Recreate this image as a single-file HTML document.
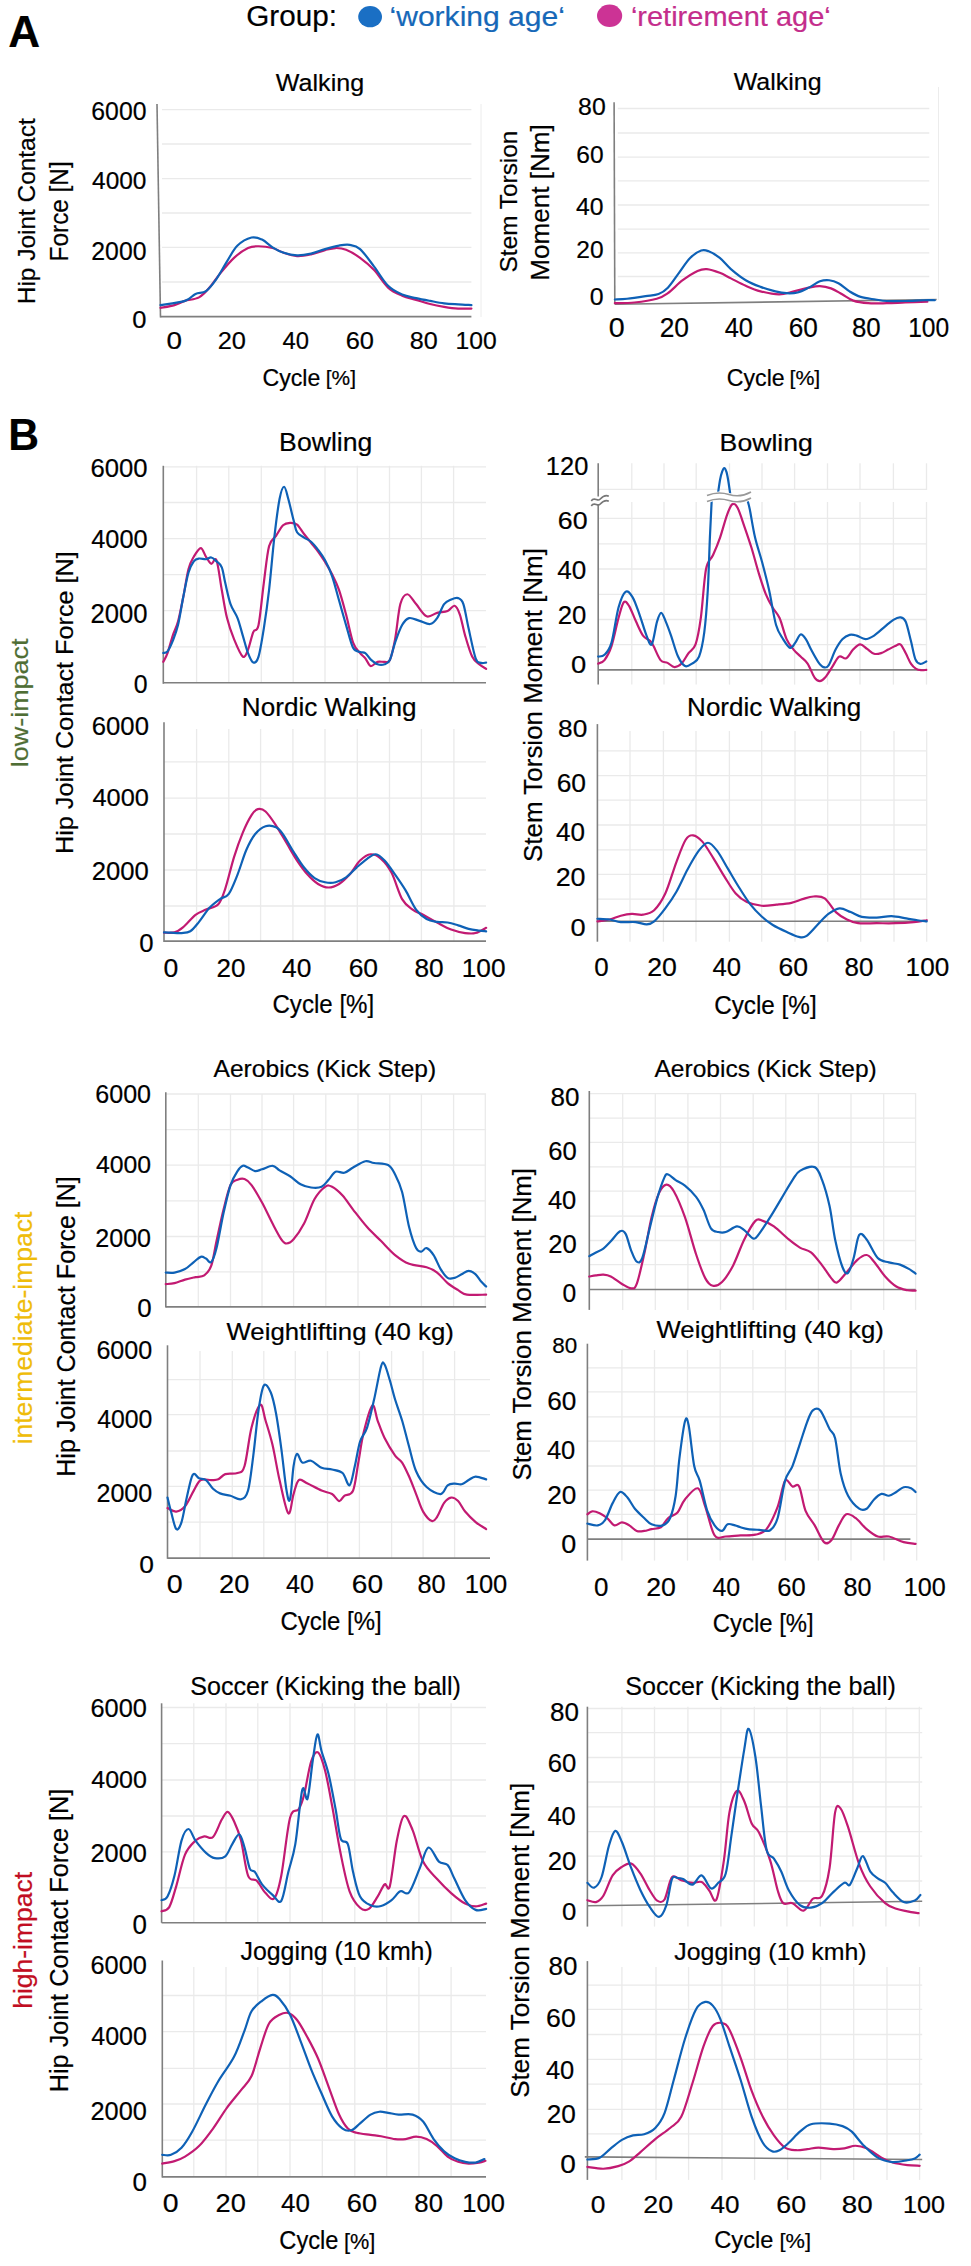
<!DOCTYPE html>
<html><head><meta charset="utf-8"><style>
html,body{margin:0;padding:0;background:#fff;overflow:hidden;width:971px;height:2266px;}
svg{display:block;}
text{font-family:"Liberation Sans",sans-serif;}
</style></head><body>
<svg width="971" height="2266" viewBox="0 0 971 2266">
<rect width="971" height="2266" fill="#fff"/>
<text x="8.2" y="47" font-size="44.04" fill="#000" stroke="#000" stroke-width="0.2" textLength="31.86" lengthAdjust="spacingAndGlyphs" font-weight="bold">A</text>
<text x="8.25" y="450.2" font-size="44.04" fill="#000" stroke="#000" stroke-width="0.2" textLength="30.79" lengthAdjust="spacingAndGlyphs" font-weight="bold">B</text>
<text x="246.21" y="26.1" font-size="29.36" fill="#000" stroke="#000" stroke-width="0.2" textLength="90.7" lengthAdjust="spacingAndGlyphs">Group:</text>
<ellipse cx="370.1" cy="16.7" rx="11.9" ry="10.6" fill="#1a6fc4"/>
<text x="389.54" y="26.1" font-size="28.29" fill="#1668b8" stroke="#1668b8" stroke-width="0.2" textLength="175.33" lengthAdjust="spacingAndGlyphs">‘working age‘</text>
<ellipse cx="609.6" cy="15.8" rx="12.6" ry="11.2" fill="#cc3395"/>
<text x="630.9" y="26.1" font-size="28.29" fill="#c42d8c" stroke="#c42d8c" stroke-width="0.2" textLength="199.9" lengthAdjust="spacingAndGlyphs">‘retirement age‘</text>
<line x1="162" y1="109.7" x2="471.4" y2="109.7" stroke="#eaeaea" stroke-width="1.3"/>
<line x1="162" y1="144" x2="471.4" y2="144" stroke="#eaeaea" stroke-width="1.3"/>
<line x1="162" y1="178.7" x2="471.4" y2="178.7" stroke="#eaeaea" stroke-width="1.3"/>
<line x1="162" y1="213" x2="471.4" y2="213" stroke="#eaeaea" stroke-width="1.3"/>
<line x1="162" y1="247.3" x2="471.4" y2="247.3" stroke="#eaeaea" stroke-width="1.3"/>
<line x1="162" y1="282" x2="471.4" y2="282" stroke="#eaeaea" stroke-width="1.3"/>
<line x1="481" y1="104" x2="481" y2="317" stroke="#ececec" stroke-width="1"/>
<line x1="157" y1="104" x2="160.5" y2="317.4" stroke="#7f7f7f" stroke-width="1.6"/>
<line x1="160.5" y1="316.6" x2="471.4" y2="316.6" stroke="#7f7f7f" stroke-width="1.6"/>
<path d="M160.5 307.9 C162.84 307.43 170.42 306.27 174.51 305.1 C178.59 303.93 180.93 302.18 185.01 300.9 C189.1 299.61 194.93 299.61 199.02 297.39 C203.1 295.18 206.02 291.56 209.52 287.59 C213.03 283.62 215.94 278.55 220.03 273.59 C224.11 268.63 229.37 262.09 234.03 257.83 C238.7 253.57 243.95 249.95 248.04 248.03 C252.12 246.1 254.46 246.27 258.54 246.27 C262.63 246.27 268.46 246.97 272.55 248.03 C276.63 249.08 278.97 251.23 283.05 252.58 C287.14 253.92 292.39 255.79 297.06 256.08 C301.73 256.37 306.4 255.32 311.06 254.33 C315.73 253.34 320.99 251.18 325.07 250.13 C329.15 249.08 332.07 248.08 335.57 248.03 C339.08 247.97 341.99 248.14 346.08 249.78 C350.16 251.41 355.42 254.44 360.08 257.83 C364.75 261.21 369.42 265.12 374.09 270.08 C378.76 275.04 383.43 283.33 388.1 287.59 C392.76 291.85 397.43 293.6 402.1 295.64 C406.77 297.69 411.44 298.45 416.11 299.85 C420.77 301.25 425.44 302.88 430.11 304.05 C434.78 305.21 439.45 306.09 444.12 306.85 C448.79 307.61 453.57 308.31 458.12 308.6 C462.68 308.89 469.21 308.6 471.43 308.6" fill="none" stroke="#c21a72" stroke-width="2.2" stroke-linejoin="round" stroke-linecap="round"/>
<path d="M160.5 305.1 C164.59 304.4 179.18 302.76 185.01 300.9 C190.85 299.03 192.02 295.53 195.52 293.89 C199.02 292.26 202.52 293.6 206.02 291.09 C209.52 288.58 213.03 283.8 216.53 278.84 C220.03 273.88 223.53 266.87 227.03 261.33 C230.53 255.79 233.45 249.54 237.54 245.57 C241.62 241.61 247.46 238.51 251.54 237.52 C255.63 236.53 258.54 237.99 262.04 239.62 C265.55 241.26 269.05 245.17 272.55 247.32 C276.05 249.48 278.97 251.23 283.05 252.58 C287.14 253.92 292.39 255.2 297.06 255.38 C301.73 255.55 306.4 254.68 311.06 253.63 C315.73 252.58 320.4 250.42 325.07 249.08 C329.74 247.73 334.99 246.27 339.08 245.57 C343.16 244.87 346.08 244.29 349.58 244.87 C353.08 245.46 356 245.46 360.08 249.08 C364.17 252.69 369.42 260.46 374.09 266.58 C378.76 272.71 383.43 281.17 388.1 285.84 C392.76 290.51 397.43 292.55 402.1 294.59 C406.77 296.64 411.44 297.04 416.11 298.1 C420.77 299.15 425.44 300.02 430.11 300.9 C434.78 301.77 439.45 302.76 444.12 303.35 C448.79 303.93 453.57 304.11 458.12 304.4 C462.68 304.69 469.21 304.98 471.43 305.1" fill="none" stroke="#0e61b6" stroke-width="2.2" stroke-linejoin="round" stroke-linecap="round"/>
<text x="275.89" y="90.8" font-size="23.69" fill="#000" stroke="#000" stroke-width="0.2" textLength="88.21" lengthAdjust="spacingAndGlyphs">Walking</text>
<text transform="translate(34.9 304.2) rotate(-90)" x="0" y="0" font-size="23.6" fill="#000" stroke="#000" stroke-width="0.2" textLength="185.88" lengthAdjust="spacingAndGlyphs">Hip Joint Contact</text>
<text transform="translate(67.5 261.4) rotate(-90)" x="0" y="0" font-size="24.98" fill="#000" stroke="#000" stroke-width="0.2" textLength="100.13" lengthAdjust="spacingAndGlyphs">Force [N]</text>
<text x="91.34" y="119.8" font-size="25.21" fill="#000" stroke="#000" stroke-width="0.2" textLength="55.13" lengthAdjust="spacingAndGlyphs">6000</text>
<text x="92.04" y="188.5" font-size="24.78" fill="#000" stroke="#000" stroke-width="0.2" textLength="54.42" lengthAdjust="spacingAndGlyphs">4000</text>
<text x="91.35" y="259.5" font-size="25.35" fill="#000" stroke="#000" stroke-width="0.2" textLength="55.11" lengthAdjust="spacingAndGlyphs">2000</text>
<text x="132.3" y="327.5" font-size="23.92" fill="#000" stroke="#000" stroke-width="0.2" textLength="14.19" lengthAdjust="spacingAndGlyphs">0</text>
<text x="166.41" y="348.9" font-size="23.63" fill="#000" stroke="#000" stroke-width="0.2" textLength="15.47" lengthAdjust="spacingAndGlyphs">0</text>
<text x="217.72" y="348.9" font-size="23.63" fill="#000" stroke="#000" stroke-width="0.2" textLength="28.27" lengthAdjust="spacingAndGlyphs">20</text>
<text x="282.45" y="348.9" font-size="23.63" fill="#000" stroke="#000" stroke-width="0.2" textLength="26.48" lengthAdjust="spacingAndGlyphs">40</text>
<text x="345.71" y="348.9" font-size="23.63" fill="#000" stroke="#000" stroke-width="0.2" textLength="28.28" lengthAdjust="spacingAndGlyphs">60</text>
<text x="409.81" y="348.9" font-size="23.63" fill="#000" stroke="#000" stroke-width="0.2" textLength="27.98" lengthAdjust="spacingAndGlyphs">80</text>
<text x="455.62" y="348.9" font-size="23.63" fill="#000" stroke="#000" stroke-width="0.2" textLength="41.14" lengthAdjust="spacingAndGlyphs">100</text>
<text x="262.53" y="385.9" font-size="23.4" fill="#000" stroke="#000" stroke-width="0.2" textLength="57.8" lengthAdjust="spacingAndGlyphs">Cycle</text>
<text x="325.81" y="385.35" font-size="20.49" fill="#000" stroke="#000" stroke-width="0.2" textLength="30.18" lengthAdjust="spacingAndGlyphs">[%]</text>
<line x1="617.8" y1="108.5" x2="929.3" y2="108.5" stroke="#eaeaea" stroke-width="1.3"/>
<line x1="617.8" y1="133" x2="929.3" y2="133" stroke="#eaeaea" stroke-width="1.3"/>
<line x1="617.8" y1="157.1" x2="929.3" y2="157.1" stroke="#eaeaea" stroke-width="1.3"/>
<line x1="617.8" y1="180.9" x2="929.3" y2="180.9" stroke="#eaeaea" stroke-width="1.3"/>
<line x1="617.8" y1="205" x2="929.3" y2="205" stroke="#eaeaea" stroke-width="1.3"/>
<line x1="617.8" y1="229.1" x2="929.3" y2="229.1" stroke="#eaeaea" stroke-width="1.3"/>
<line x1="617.8" y1="252.8" x2="929.3" y2="252.8" stroke="#eaeaea" stroke-width="1.3"/>
<line x1="617.8" y1="276.5" x2="929.3" y2="276.5" stroke="#eaeaea" stroke-width="1.3"/>
<line x1="938.5" y1="87" x2="938.5" y2="300" stroke="#ececec" stroke-width="1"/>
<line x1="614.1" y1="102.2" x2="614.8" y2="304.3" stroke="#7f7f7f" stroke-width="1.6"/>
<line x1="614.8" y1="304.3" x2="936.7" y2="299.5" stroke="#7f7f7f" stroke-width="1.6"/>
<path d="M614.84 303.21 C618.12 303.09 627.51 303.21 634.49 302.47 C641.48 301.73 651.18 300.31 656.74 298.76 C662.3 297.22 663.54 296.29 667.86 293.2 C672.19 290.11 677.75 283.93 682.7 280.22 C687.64 276.51 693.51 272.81 697.53 270.95 C701.54 269.1 703.09 268.79 706.8 269.1 C710.5 269.41 715.76 271.26 719.77 272.81 C723.79 274.35 726.57 276.21 730.9 278.37 C735.22 280.53 740.78 283.62 745.73 285.78 C750.67 287.95 755 289.92 760.56 291.35 C766.12 292.77 773.54 294.31 779.1 294.31 C784.66 294.31 788.99 292.46 793.93 291.35 C798.87 290.23 804.44 288.5 808.76 287.64 C813.09 286.77 816.18 286.03 819.89 286.15 C823.59 286.28 827.3 287.02 831.01 288.38 C834.72 289.74 838.42 292.27 842.13 294.31 C845.84 296.35 848.93 299.13 853.26 300.62 C857.58 302.1 862.53 302.78 868.09 303.21 C873.65 303.64 880.45 303.33 886.63 303.21 C892.81 303.09 898.37 302.72 905.16 302.47 C911.96 302.22 923.7 301.85 927.41 301.73" fill="none" stroke="#c21a72" stroke-width="2.2" stroke-linejoin="round" stroke-linecap="round"/>
<path d="M614.84 299.5 C616.88 299.38 621.95 299.32 627.08 298.76 C632.21 298.21 640.36 296.97 645.62 296.17 C650.87 295.36 654.89 295.36 658.59 293.94 C662.3 292.52 664.47 291.16 667.86 287.64 C671.26 284.12 675.28 277.75 678.99 272.81 C682.7 267.86 686.4 261.68 690.11 257.98 C693.82 254.27 698.14 251.67 701.23 250.56 C704.32 249.45 705.56 250.07 708.65 251.3 C711.74 252.54 716.07 255.01 719.77 257.98 C723.48 260.94 726.57 265.39 730.9 269.1 C735.22 272.81 740.78 277.26 745.73 280.22 C750.67 283.19 755.62 285.04 760.56 286.9 C765.5 288.75 771.07 290.3 775.39 291.35 C779.72 292.4 782.81 293.01 786.51 293.2 C790.22 293.39 793.93 293.39 797.64 292.46 C801.35 291.53 805.05 289.49 808.76 287.64 C812.47 285.78 816.49 282.57 819.89 281.33 C823.28 280.1 826.06 279.91 829.15 280.22 C832.24 280.53 835.03 281.33 838.42 283.19 C841.82 285.04 845.84 289.06 849.55 291.35 C853.26 293.63 856.35 295.55 860.67 296.91 C865 298.27 871.18 298.82 875.5 299.5 C879.83 300.18 881.68 300.74 886.63 300.99 C891.57 301.23 898.99 301.11 905.16 300.99 C911.34 300.86 918.76 300.37 923.7 300.24 C928.65 300.12 932.97 300.24 934.83 300.24" fill="none" stroke="#0e61b6" stroke-width="2.2" stroke-linejoin="round" stroke-linecap="round"/>
<text x="733.69" y="90.2" font-size="24.71" fill="#000" stroke="#000" stroke-width="0.2" textLength="87.9" lengthAdjust="spacingAndGlyphs">Walking</text>
<text transform="translate(516.6 272.38) rotate(-90)" x="0" y="0" font-size="24.27" fill="#000" stroke="#000" stroke-width="0.2" textLength="141.73" lengthAdjust="spacingAndGlyphs">Stem Torsion</text>
<text transform="translate(549.3 280.84) rotate(-90)" x="0" y="0" font-size="25.15" fill="#000" stroke="#000" stroke-width="0.2" textLength="156.6" lengthAdjust="spacingAndGlyphs">Moment [Nm]</text>
<text x="578.12" y="115.1" font-size="24.78" fill="#000" stroke="#000" stroke-width="0.2" textLength="27.65" lengthAdjust="spacingAndGlyphs">80</text>
<text x="576.35" y="163.3" font-size="24.78" fill="#000" stroke="#000" stroke-width="0.2" textLength="27.31" lengthAdjust="spacingAndGlyphs">60</text>
<text x="575.93" y="214.5" font-size="23.92" fill="#000" stroke="#000" stroke-width="0.2" textLength="27.54" lengthAdjust="spacingAndGlyphs">40</text>
<text x="576.37" y="257.6" font-size="24.78" fill="#000" stroke="#000" stroke-width="0.2" textLength="27.29" lengthAdjust="spacingAndGlyphs">20</text>
<text x="589.83" y="305.4" font-size="24.2" fill="#000" stroke="#000" stroke-width="0.2" textLength="13.84" lengthAdjust="spacingAndGlyphs">0</text>
<text x="608.88" y="337.4" font-size="28.36" fill="#000" stroke="#000" stroke-width="0.2" textLength="15.94" lengthAdjust="spacingAndGlyphs">0</text>
<text x="659.67" y="337.4" font-size="28.36" fill="#000" stroke="#000" stroke-width="0.2" textLength="29.36" lengthAdjust="spacingAndGlyphs">20</text>
<text x="724.72" y="337.4" font-size="28.36" fill="#000" stroke="#000" stroke-width="0.2" textLength="28.28" lengthAdjust="spacingAndGlyphs">40</text>
<text x="788.67" y="337.4" font-size="28.36" fill="#000" stroke="#000" stroke-width="0.2" textLength="29.15" lengthAdjust="spacingAndGlyphs">60</text>
<text x="851.88" y="337.4" font-size="28.36" fill="#000" stroke="#000" stroke-width="0.2" textLength="28.73" lengthAdjust="spacingAndGlyphs">80</text>
<text x="908.13" y="337.4" font-size="28.36" fill="#000" stroke="#000" stroke-width="0.2" textLength="41.03" lengthAdjust="spacingAndGlyphs">100</text>
<text x="726.83" y="385.9" font-size="23.4" fill="#000" stroke="#000" stroke-width="0.2" textLength="57.8" lengthAdjust="spacingAndGlyphs">Cycle</text>
<text x="789.48" y="385.35" font-size="20.49" fill="#000" stroke="#000" stroke-width="0.2" textLength="30.84" lengthAdjust="spacingAndGlyphs">[%]</text>
<line x1="163.3" y1="466.8" x2="486" y2="466.8" stroke="#eaeaea" stroke-width="1.3"/>
<line x1="163.3" y1="502.5" x2="486" y2="502.5" stroke="#eaeaea" stroke-width="1.3"/>
<line x1="163.3" y1="538.6" x2="486" y2="538.6" stroke="#eaeaea" stroke-width="1.3"/>
<line x1="163.3" y1="574.7" x2="486" y2="574.7" stroke="#eaeaea" stroke-width="1.3"/>
<line x1="163.3" y1="610.7" x2="486" y2="610.7" stroke="#eaeaea" stroke-width="1.3"/>
<line x1="163.3" y1="646.8" x2="486" y2="646.8" stroke="#eaeaea" stroke-width="1.3"/>
<line x1="196.6" y1="465.8" x2="196.6" y2="682.8" stroke="#eaeaea" stroke-width="1.3"/>
<line x1="228.8" y1="465.8" x2="228.8" y2="682.8" stroke="#eaeaea" stroke-width="1.3"/>
<line x1="261.3" y1="465.8" x2="261.3" y2="682.8" stroke="#eaeaea" stroke-width="1.3"/>
<line x1="293.2" y1="465.8" x2="293.2" y2="682.8" stroke="#eaeaea" stroke-width="1.3"/>
<line x1="325" y1="465.8" x2="325" y2="682.8" stroke="#eaeaea" stroke-width="1.3"/>
<line x1="357.3" y1="465.8" x2="357.3" y2="682.8" stroke="#eaeaea" stroke-width="1.3"/>
<line x1="389.5" y1="465.8" x2="389.5" y2="682.8" stroke="#eaeaea" stroke-width="1.3"/>
<line x1="421.4" y1="465.8" x2="421.4" y2="682.8" stroke="#eaeaea" stroke-width="1.3"/>
<line x1="453.6" y1="465.8" x2="453.6" y2="682.8" stroke="#eaeaea" stroke-width="1.3"/>
<line x1="163.3" y1="465.8" x2="163.3" y2="683.8" stroke="#7f7f7f" stroke-width="1.6"/>
<line x1="163.3" y1="682.8" x2="486" y2="682.8" stroke="#7f7f7f" stroke-width="1.6"/>
<path d="M163.31 661.83 C164.01 660.38 165.93 657.46 167.51 653.08 C169.08 648.7 171.01 640.83 172.76 635.57 C174.51 630.32 176.26 627.99 178.01 621.57 C179.76 615.15 181.51 605.81 183.26 597.06 C185.01 588.31 186.76 575.76 188.52 569.05 C190.27 562.34 191.73 560.29 193.77 556.79 C195.81 553.29 198.73 548.04 200.77 548.04 C202.81 548.04 204.27 554.17 206.02 556.79 C207.77 559.42 209.52 563.21 211.27 563.8 C213.03 564.38 214.78 555.92 216.53 560.29 C218.28 564.67 220.03 580.43 221.78 590.06 C223.53 599.68 224.99 609.9 227.03 618.07 C229.07 626.24 231.41 632.66 234.03 639.08 C236.66 645.49 240.45 654.83 242.79 656.58 C245.12 658.33 246.29 653.66 248.04 649.58 C249.79 645.49 251.54 636.16 253.29 632.07 C255.04 627.99 256.79 633.24 258.54 625.07 C260.29 616.9 262.04 596.18 263.8 583.05 C265.55 569.92 267.01 554.17 269.05 546.29 C271.09 538.41 273.72 539.29 276.05 535.78 C278.38 532.28 280.72 527.44 283.05 525.28 C285.39 523.12 287.72 522.95 290.06 522.83 C292.39 522.71 294.72 522.71 297.06 524.58 C299.39 526.45 301.73 531 304.06 534.03 C306.4 537.07 308.73 539.87 311.06 542.79 C313.4 545.7 315.73 548.33 318.07 551.54 C320.4 554.75 322.74 558.25 325.07 562.04 C327.4 565.84 329.74 569.63 332.07 574.3 C334.41 578.97 336.74 583.35 339.08 590.06 C341.41 596.77 343.74 605.81 346.08 614.57 C348.41 623.32 350.75 636.16 353.08 642.58 C355.42 649 358.04 650.46 360.08 653.08 C362.13 655.71 363.59 656.17 365.34 658.33 C367.09 660.49 368.55 665.45 370.59 666.04 C372.63 666.62 375.26 662.54 377.59 661.83 C379.93 661.13 382.55 662.13 384.59 661.83 C386.64 661.54 388.1 663.88 389.85 660.08 C391.6 656.29 393.35 648.41 395.1 639.08 C396.85 629.74 398.31 611.53 400.35 604.06 C402.39 596.59 404.73 594.26 407.35 594.26 C409.98 594.26 412.9 600.39 416.11 604.06 C419.32 607.74 423.11 614.86 426.61 616.32 C430.11 617.78 433.61 613.69 437.11 612.82 C440.62 611.94 444.7 612.23 447.62 611.06 C450.54 609.9 452.58 605.23 454.62 605.81 C456.66 606.4 458.12 609.61 459.87 614.57 C461.62 619.53 463.08 628.57 465.13 635.57 C467.17 642.58 469.79 651.8 472.13 656.58 C474.46 661.37 476.8 662.24 479.13 664.29 C481.47 666.33 484.97 668.08 486.13 668.84" fill="none" stroke="#c21a72" stroke-width="2.2" stroke-linejoin="round" stroke-linecap="round"/>
<path d="M163.31 653.08 C164.01 652.79 165.93 653.37 167.51 651.33 C169.08 649.29 171.01 645.2 172.76 640.83 C174.51 636.45 176.26 632.36 178.01 625.07 C179.76 617.78 181.51 605.81 183.26 597.06 C185.01 588.31 186.76 578.5 188.52 572.55 C190.27 566.6 192.02 563.68 193.77 561.34 C195.52 559.01 196.98 558.89 199.02 558.54 C201.06 558.19 203.98 559.42 206.02 559.24 C208.06 559.07 209.52 557.14 211.27 557.49 C213.03 557.84 214.78 559.71 216.53 561.34 C218.28 562.98 220.32 563.68 221.78 567.3 C223.24 570.92 223.82 576.93 225.28 583.05 C226.74 589.18 228.49 598.23 230.53 604.06 C232.57 609.9 235.49 612.82 237.54 618.07 C239.58 623.32 241.04 629.74 242.79 635.57 C244.54 641.41 246.29 648.59 248.04 653.08 C249.79 657.57 251.54 661.95 253.29 662.54 C255.04 663.12 256.79 662.24 258.54 656.58 C260.29 650.92 262.04 639.66 263.8 628.57 C265.55 617.48 267.3 605.23 269.05 590.06 C270.8 574.88 272.55 552.71 274.3 537.54 C276.05 522.36 277.92 507.48 279.55 499.02 C281.19 490.56 282.64 486.76 284.1 486.76 C285.56 486.76 286.73 493.48 288.31 499.02 C289.88 504.56 292.1 514.48 293.56 520.03 C295.02 525.57 295.31 529.37 297.06 532.28 C298.81 535.2 301.73 535.96 304.06 537.54 C306.4 539.11 308.73 539.69 311.06 541.74 C313.4 543.78 315.73 546.7 318.07 549.79 C320.4 552.88 322.74 555.92 325.07 560.29 C327.4 564.67 329.74 569.34 332.07 576.05 C334.41 582.76 336.74 592.39 339.08 600.56 C341.41 608.73 343.74 617.19 346.08 625.07 C348.41 632.95 350.75 643.34 353.08 647.83 C355.42 652.32 358.04 651.16 360.08 652.03 C362.13 652.91 363.59 651.86 365.34 653.08 C367.09 654.31 368.55 657.52 370.59 659.38 C372.63 661.25 375.26 663.47 377.59 664.29 C379.93 665.1 382.55 664.99 384.59 664.29 C386.64 663.59 388.1 663.7 389.85 660.08 C391.6 656.47 393.06 648.41 395.1 642.58 C397.14 636.74 399.77 629.15 402.1 625.07 C404.44 620.99 406.19 618.77 409.1 618.07 C412.02 617.37 416.11 619.88 419.61 620.87 C423.11 621.86 427.19 624.49 430.11 624.02 C433.03 623.55 434.78 621.39 437.11 618.07 C439.45 614.74 441.78 607.15 444.12 604.06 C446.45 600.97 448.79 600.5 451.12 599.51 C453.45 598.52 456.08 597.35 458.12 598.11 C460.17 598.87 461.62 598.98 463.38 604.06 C465.13 609.14 466.58 619.53 468.63 628.57 C470.67 637.62 473.59 652.61 475.63 658.33 C477.67 664.05 479.13 662.18 480.88 662.89 C482.63 663.59 485.26 662.59 486.13 662.54" fill="none" stroke="#0e61b6" stroke-width="2.2" stroke-linejoin="round" stroke-linecap="round"/>
<text x="279.11" y="450.9" font-size="25.15" fill="#000" stroke="#000" stroke-width="0.2" textLength="93.3" lengthAdjust="spacingAndGlyphs">Bowling</text>
<text x="90.5" y="477.2" font-size="25.64" fill="#000" stroke="#000" stroke-width="0.2" textLength="57.11" lengthAdjust="spacingAndGlyphs">6000</text>
<text x="91.22" y="547.5" font-size="25.64" fill="#000" stroke="#000" stroke-width="0.2" textLength="56.37" lengthAdjust="spacingAndGlyphs">4000</text>
<text x="90.51" y="622.6" font-size="27.35" fill="#000" stroke="#000" stroke-width="0.2" textLength="57.09" lengthAdjust="spacingAndGlyphs">2000</text>
<text x="133.73" y="692.9" font-size="25.64" fill="#000" stroke="#000" stroke-width="0.2" textLength="13.84" lengthAdjust="spacingAndGlyphs">0</text>
<line x1="598.2" y1="518.3" x2="926" y2="518.3" stroke="#eaeaea" stroke-width="1.3"/>
<line x1="598.2" y1="543.8" x2="926" y2="543.8" stroke="#eaeaea" stroke-width="1.3"/>
<line x1="598.2" y1="569" x2="926" y2="569" stroke="#eaeaea" stroke-width="1.3"/>
<line x1="598.2" y1="594.3" x2="926" y2="594.3" stroke="#eaeaea" stroke-width="1.3"/>
<line x1="598.2" y1="619.5" x2="926" y2="619.5" stroke="#eaeaea" stroke-width="1.3"/>
<line x1="598.2" y1="644.7" x2="926" y2="644.7" stroke="#eaeaea" stroke-width="1.3"/>
<line x1="598.2" y1="489.3" x2="926" y2="489.3" stroke="#eaeaea" stroke-width="1.3"/>
<line x1="631.8" y1="463.3" x2="631.8" y2="490" stroke="#eaeaea" stroke-width="1.3"/>
<line x1="631.8" y1="502" x2="631.8" y2="684.6" stroke="#eaeaea" stroke-width="1.3"/>
<line x1="664" y1="463.3" x2="664" y2="490" stroke="#eaeaea" stroke-width="1.3"/>
<line x1="664" y1="502" x2="664" y2="684.6" stroke="#eaeaea" stroke-width="1.3"/>
<line x1="696.2" y1="463.3" x2="696.2" y2="490" stroke="#eaeaea" stroke-width="1.3"/>
<line x1="696.2" y1="502" x2="696.2" y2="684.6" stroke="#eaeaea" stroke-width="1.3"/>
<line x1="729.5" y1="463.3" x2="729.5" y2="490" stroke="#eaeaea" stroke-width="1.3"/>
<line x1="729.5" y1="502" x2="729.5" y2="684.6" stroke="#eaeaea" stroke-width="1.3"/>
<line x1="762" y1="463.3" x2="762" y2="490" stroke="#eaeaea" stroke-width="1.3"/>
<line x1="762" y1="502" x2="762" y2="684.6" stroke="#eaeaea" stroke-width="1.3"/>
<line x1="794.6" y1="463.3" x2="794.6" y2="490" stroke="#eaeaea" stroke-width="1.3"/>
<line x1="794.6" y1="502" x2="794.6" y2="684.6" stroke="#eaeaea" stroke-width="1.3"/>
<line x1="827.5" y1="463.3" x2="827.5" y2="490" stroke="#eaeaea" stroke-width="1.3"/>
<line x1="827.5" y1="502" x2="827.5" y2="684.6" stroke="#eaeaea" stroke-width="1.3"/>
<line x1="860" y1="463.3" x2="860" y2="490" stroke="#eaeaea" stroke-width="1.3"/>
<line x1="860" y1="502" x2="860" y2="684.6" stroke="#eaeaea" stroke-width="1.3"/>
<line x1="893.4" y1="463.3" x2="893.4" y2="490" stroke="#eaeaea" stroke-width="1.3"/>
<line x1="893.4" y1="502" x2="893.4" y2="684.6" stroke="#eaeaea" stroke-width="1.3"/>
<line x1="926.5" y1="463.3" x2="926.5" y2="490" stroke="#eaeaea" stroke-width="1.3"/>
<line x1="926.5" y1="502" x2="926.5" y2="684.6" stroke="#eaeaea" stroke-width="1.3"/>
<line x1="598.2" y1="463.3" x2="598.2" y2="497" stroke="#7f7f7f" stroke-width="1.6"/>
<line x1="598.2" y1="504" x2="598.2" y2="684.6" stroke="#7f7f7f" stroke-width="1.6"/>
<line x1="598.2" y1="669.9" x2="926.5" y2="669.9" stroke="#7f7f7f" stroke-width="1.6"/>
<path d="M598.21 663.59 C599.26 663 602.29 663 604.51 660.08 C606.73 657.17 609.18 653.08 611.51 646.08 C613.85 639.08 616.47 625.36 618.52 618.07 C620.56 610.77 622.02 604.35 623.77 602.31 C625.52 600.27 626.98 602.6 629.02 605.81 C631.06 609.02 633.69 616.61 636.02 621.57 C638.36 626.53 640.69 632.36 643.03 635.57 C645.36 638.78 648.28 639.08 650.03 640.83 C651.78 642.58 651.78 642.87 653.53 646.08 C655.28 649.29 658.2 657.28 660.53 660.08 C662.87 662.89 665.2 661.72 667.54 662.89 C669.87 664.05 672.2 666.97 674.54 667.09 C676.87 667.2 679.21 665.92 681.54 663.59 C683.87 661.25 686.21 656.29 688.54 653.08 C690.88 649.87 693.5 650.16 695.55 644.33 C697.59 638.49 699.05 630.61 700.8 618.07 C702.55 605.52 704.01 579.55 706.05 569.05 C708.09 558.54 710.72 560.29 713.05 555.04 C715.39 549.79 717.72 544.25 720.06 537.54 C722.39 530.82 725.02 520.32 727.06 514.78 C729.1 509.23 730.56 505.44 732.31 504.27 C734.06 503.1 735.52 503.98 737.56 507.77 C739.61 511.57 742.23 520.32 744.57 527.03 C746.9 533.74 749.23 540.45 751.57 548.04 C753.9 555.63 756.24 564.96 758.57 572.55 C760.91 580.14 763.24 587.72 765.57 593.56 C767.91 599.39 770.24 603.48 772.58 607.56 C774.91 611.65 777.25 612.82 779.58 618.07 C781.91 623.32 784.25 633.82 786.58 639.08 C788.92 644.33 791.25 646.66 793.59 649.58 C795.92 652.5 798.25 654.25 800.59 656.58 C802.92 658.92 805.26 660.08 807.59 663.59 C809.93 667.09 812.55 674.67 814.59 677.59 C816.64 680.51 818.1 681.09 819.85 681.09 C821.6 681.09 823.06 679.93 825.1 677.59 C827.14 675.26 829.77 670.59 832.1 667.09 C834.44 663.59 836.77 658.04 839.1 656.58 C841.44 655.12 843.77 659.5 846.11 658.33 C848.44 657.17 850.77 651.91 853.11 649.58 C855.44 647.25 857.78 644.44 860.11 644.33 C862.45 644.21 864.78 647.3 867.11 648.88 C869.45 650.46 871.78 653.08 874.12 653.78 C876.45 654.48 878.79 653.78 881.12 653.08 C883.45 652.38 885.79 650.75 888.12 649.58 C890.46 648.41 893.08 646.95 895.13 646.08 C897.17 645.2 898.63 643.16 900.38 644.33 C902.13 645.49 903.88 649.87 905.63 653.08 C907.38 656.29 909.13 660.96 910.88 663.59 C912.63 666.21 914.38 667.73 916.13 668.84 C917.89 669.95 919.69 670.06 921.39 670.24 C923.08 670.41 925.47 669.95 926.29 669.89" fill="none" stroke="#c21a72" stroke-width="2.2" stroke-linejoin="round" stroke-linecap="round"/>
<path d="M598.21 656.58 C599.26 656.29 602.29 657.17 604.51 654.83 C606.73 652.5 609.18 650.46 611.51 642.58 C613.85 634.7 616.18 616.02 618.52 607.56 C620.85 599.1 623.18 593.56 625.52 591.81 C627.85 590.06 630.19 593.27 632.52 597.06 C634.86 600.85 637.19 608.15 639.52 614.57 C641.86 620.99 644.48 630.61 646.53 635.57 C648.57 640.53 650.03 646.66 651.78 644.33 C653.53 641.99 655.46 626.82 657.03 621.57 C658.61 616.32 659.77 612.82 661.23 612.82 C662.69 612.82 664.15 617.78 665.78 621.57 C667.42 625.36 668.99 629.74 671.04 635.57 C673.08 641.41 675.7 651.51 678.04 656.58 C680.37 661.66 682.71 664.87 685.04 666.04 C687.38 667.2 689.71 665.16 692.04 663.59 C694.38 662.01 697.01 661.83 699.05 656.58 C701.09 651.33 702.84 643.16 704.3 632.07 C705.76 620.99 706.87 605.81 707.8 590.06 C708.73 574.3 709.26 552.36 709.9 537.54 C710.54 522.71 711.36 507.19 711.65 501.12" fill="none" stroke="#0e61b6" stroke-width="2.2" stroke-linejoin="round" stroke-linecap="round"/>
<path d="M717.96 493.77 C718.31 491.43 719.36 483.44 720.06 479.76 C720.76 476.09 721.46 473.63 722.16 471.71 C722.86 469.78 723.56 468.21 724.26 468.21 C724.96 468.21 725.72 469.78 726.36 471.71 C727 473.63 727.47 476.09 728.11 479.76 C728.75 483.44 729.86 491.43 730.21 493.77" fill="none" stroke="#0e61b6" stroke-width="2.2" stroke-linejoin="round" stroke-linecap="round"/>
<path d="M747.72 501.12 C748.07 502.52 748.59 503.45 749.82 509.52 C751.04 515.59 753.03 528.78 755.07 537.54 C757.11 546.29 759.74 553.29 762.07 562.04 C764.41 570.8 766.74 579.55 769.08 590.06 C771.41 600.56 773.74 616.9 776.08 625.07 C778.41 633.24 780.75 635.28 783.08 639.08 C785.42 642.87 788.04 647.25 790.08 647.83 C792.13 648.41 793.59 644.79 795.34 642.58 C797.09 640.36 798.84 635.11 800.59 634.52 C802.34 633.94 804.09 636.57 805.84 639.08 C807.59 641.58 809.05 645.79 811.09 649.58 C813.13 653.37 816.05 658.92 818.1 661.83 C820.14 664.75 821.6 666.5 823.35 667.09 C825.1 667.67 826.56 668.25 828.6 665.34 C830.64 662.42 833.27 653.96 835.6 649.58 C837.94 645.2 840.27 641.53 842.61 639.08 C844.94 636.62 847.27 635.46 849.61 634.87 C851.94 634.29 853.98 634.87 856.61 635.57 C859.24 636.27 862.45 639.08 865.36 639.08 C868.28 639.08 870.91 637.62 874.12 635.57 C877.33 633.53 881.41 629.45 884.62 626.82 C887.83 624.19 890.75 621.39 893.38 619.82 C896 618.24 898.34 617.08 900.38 617.37 C902.42 617.66 903.88 617.66 905.63 621.57 C907.38 625.48 909.25 634.52 910.88 640.83 C912.52 647.13 913.86 655.53 915.43 659.38 C917.01 663.24 918.53 663.59 920.34 663.94 C922.15 664.29 925.3 661.89 926.29 661.48" fill="none" stroke="#0e61b6" stroke-width="2.2" stroke-linejoin="round" stroke-linecap="round"/>
<path d="M707 498.5 Q718 494 729 497.5 T751 495" fill="none" stroke="#fff" stroke-width="9"/>
<path d="M707 495.5 Q718 491 729 494.5 T751 492" fill="none" stroke="#999" stroke-width="1.6"/>
<path d="M707 501.5 Q718 497 729 500.5 T751 498" fill="none" stroke="#999" stroke-width="1.6"/>
<rect x="590" y="496.5" width="20" height="7" fill="#fff"/>
<path d="M591.3 501 C594 496 597.5 502 600 499.3 C602.5 496.6 605.5 494.6 608.8 496.2" fill="none" stroke="#777" stroke-width="1.6"/>
<path d="M591.3 506 C594 501 597.5 507 600 504.3 C602.5 501.6 605.5 499.6 608.8 501.2" fill="none" stroke="#777" stroke-width="1.6"/>
<text x="719.61" y="451" font-size="24.71" fill="#000" stroke="#000" stroke-width="0.2" textLength="93.3" lengthAdjust="spacingAndGlyphs">Bowling</text>
<text x="545.86" y="475" font-size="25.49" fill="#000" stroke="#000" stroke-width="0.2" textLength="42.43" lengthAdjust="spacingAndGlyphs">120</text>
<text x="557.74" y="528.9" font-size="24.63" fill="#000" stroke="#000" stroke-width="0.2" textLength="29.81" lengthAdjust="spacingAndGlyphs">60</text>
<text x="557.3" y="578.6" font-size="24.92" fill="#000" stroke="#000" stroke-width="0.2" textLength="29.02" lengthAdjust="spacingAndGlyphs">40</text>
<text x="557.71" y="624.3" font-size="25.49" fill="#000" stroke="#000" stroke-width="0.2" textLength="28.6" lengthAdjust="spacingAndGlyphs">20</text>
<text x="571.13" y="672.8" font-size="24.63" fill="#000" stroke="#000" stroke-width="0.2" textLength="15.24" lengthAdjust="spacingAndGlyphs">0</text>
<line x1="164" y1="761.8" x2="486" y2="761.8" stroke="#eaeaea" stroke-width="1.3"/>
<line x1="164" y1="798.2" x2="486" y2="798.2" stroke="#eaeaea" stroke-width="1.3"/>
<line x1="164" y1="834" x2="486" y2="834" stroke="#eaeaea" stroke-width="1.3"/>
<line x1="164" y1="870" x2="486" y2="870" stroke="#eaeaea" stroke-width="1.3"/>
<line x1="164" y1="906" x2="486" y2="906" stroke="#eaeaea" stroke-width="1.3"/>
<line x1="196.6" y1="729" x2="196.6" y2="941.1" stroke="#eaeaea" stroke-width="1.3"/>
<line x1="228.8" y1="729" x2="228.8" y2="941.1" stroke="#eaeaea" stroke-width="1.3"/>
<line x1="260.6" y1="729" x2="260.6" y2="941.1" stroke="#eaeaea" stroke-width="1.3"/>
<line x1="292.9" y1="729" x2="292.9" y2="941.1" stroke="#eaeaea" stroke-width="1.3"/>
<line x1="325" y1="729" x2="325" y2="941.1" stroke="#eaeaea" stroke-width="1.3"/>
<line x1="357.3" y1="729" x2="357.3" y2="941.1" stroke="#eaeaea" stroke-width="1.3"/>
<line x1="389.5" y1="729" x2="389.5" y2="941.1" stroke="#eaeaea" stroke-width="1.3"/>
<line x1="421.4" y1="729" x2="421.4" y2="941.1" stroke="#eaeaea" stroke-width="1.3"/>
<line x1="453.9" y1="729" x2="453.9" y2="941.1" stroke="#eaeaea" stroke-width="1.3"/>
<line x1="164" y1="722.3" x2="164" y2="942" stroke="#7f7f7f" stroke-width="1.6"/>
<line x1="164" y1="941.1" x2="486" y2="941.1" stroke="#7f7f7f" stroke-width="1.6"/>
<path d="M164.01 932.69 C165.76 932.63 171.3 933.27 174.51 932.34 C177.72 931.41 179.76 930 183.26 927.09 C186.76 924.17 191.73 917.75 195.52 914.83 C199.31 911.91 202.23 911.33 206.02 909.58 C209.82 907.83 215.07 907.83 218.28 904.33 C221.49 900.83 222.65 896.45 225.28 888.57 C227.91 880.69 231.12 866.4 234.03 857.06 C236.95 847.72 239.87 839.55 242.79 832.55 C245.7 825.55 249.03 818.95 251.54 815.04 C254.05 811.13 255.51 809.67 257.84 809.09 C260.18 808.51 262.51 808.8 265.55 811.54 C268.58 814.28 272.55 820.29 276.05 825.55 C279.55 830.8 283.05 837.22 286.55 843.05 C290.06 848.89 293.56 855.31 297.06 860.56 C300.56 865.81 304.06 870.66 307.56 874.57 C311.06 878.48 314.57 881.86 318.07 884.02 C321.57 886.18 325.07 887.52 328.57 887.52 C332.07 887.52 335.57 886.18 339.08 884.02 C342.58 881.86 346.08 878.48 349.58 874.57 C353.08 870.66 356.58 863.94 360.08 860.56 C363.59 857.18 367.09 854.55 370.59 854.26 C374.09 853.97 377.59 855.72 381.09 858.81 C384.59 861.9 388.1 866.1 391.6 872.82 C395.1 879.53 398.6 892.95 402.1 899.08 C405.6 905.2 409.1 906.95 412.61 909.58 C416.11 912.21 419.02 912.67 423.11 914.83 C427.19 916.99 432.45 920.08 437.11 922.54 C441.78 924.99 446.45 927.79 451.12 929.54 C455.79 931.29 461.04 932.46 465.13 933.04 C469.21 933.62 472.13 933.91 475.63 933.04 C479.13 932.16 484.38 928.66 486.13 927.79" fill="none" stroke="#c21a72" stroke-width="2.2" stroke-linejoin="round" stroke-linecap="round"/>
<path d="M164.01 932.34 C165.17 932.4 168.09 932.57 171.01 932.69 C173.93 932.81 178.3 933.27 181.51 933.04 C184.72 932.81 187.35 933.16 190.27 931.29 C193.18 929.42 195.81 925.74 199.02 921.83 C202.23 917.92 206.02 911.62 209.52 907.83 C213.03 904.04 216.82 901.41 220.03 899.08 C223.24 896.74 225.86 897.91 228.78 893.82 C231.7 889.74 234.62 881.86 237.54 874.57 C240.45 867.27 243.37 856.77 246.29 850.06 C249.21 843.35 251.83 838.27 255.04 834.3 C258.25 830.33 262.04 827.41 265.55 826.25 C269.05 825.08 273.13 825.95 276.05 827.3 C278.97 828.64 280.14 830.21 283.05 834.3 C285.97 838.38 290.06 846.26 293.56 851.81 C297.06 857.35 300.56 863.19 304.06 867.56 C307.56 871.94 311.06 875.62 314.57 878.07 C318.07 880.52 321.57 881.57 325.07 882.27 C328.57 882.97 332.07 883.09 335.57 882.27 C339.08 881.45 342.58 879.82 346.08 877.37 C349.58 874.92 353.08 870.66 356.58 867.56 C360.08 864.47 363.88 861.03 367.09 858.81 C370.3 856.59 372.92 853.97 375.84 854.26 C378.76 854.55 381.38 857.18 384.59 860.56 C387.8 863.94 391.6 869.61 395.1 874.57 C398.6 879.53 402.1 884.49 405.6 890.32 C409.1 896.16 412.61 904.79 416.11 909.58 C419.61 914.37 423.11 916.99 426.61 919.03 C430.11 921.08 433.61 921.25 437.11 921.83 C440.62 922.42 444.12 921.95 447.62 922.54 C451.12 923.12 454.62 924.29 458.12 925.34 C461.62 926.39 465.13 927.96 468.63 928.84 C472.13 929.71 476.21 930.18 479.13 930.59 C482.05 931 484.97 931.17 486.13 931.29" fill="none" stroke="#0e61b6" stroke-width="2.2" stroke-linejoin="round" stroke-linecap="round"/>
<text x="241.87" y="716.4" font-size="24.86" fill="#000" stroke="#000" stroke-width="0.2" textLength="174.6" lengthAdjust="spacingAndGlyphs">Nordic Walking</text>
<text transform="translate(72.5 854.07) rotate(-90)" x="0" y="0" font-size="24.71" fill="#000" stroke="#000" stroke-width="0.2" textLength="302.87" lengthAdjust="spacingAndGlyphs">Hip Joint Contact Force [N]</text>
<text transform="translate(28 767.32) rotate(-90)" x="0" y="0" font-size="24.01" fill="#4f6e35" stroke="#4f6e35" stroke-width="0.2" textLength="128.92" lengthAdjust="spacingAndGlyphs">low-impact</text>
<text x="91.8" y="735.2" font-size="26.5" fill="#000" stroke="#000" stroke-width="0.2" textLength="57.11" lengthAdjust="spacingAndGlyphs">6000</text>
<text x="92.52" y="805.5" font-size="24.78" fill="#000" stroke="#000" stroke-width="0.2" textLength="56.37" lengthAdjust="spacingAndGlyphs">4000</text>
<text x="91.81" y="880" font-size="25.64" fill="#000" stroke="#000" stroke-width="0.2" textLength="57.09" lengthAdjust="spacingAndGlyphs">2000</text>
<text x="139.19" y="951.5" font-size="25.35" fill="#000" stroke="#000" stroke-width="0.2" textLength="14.31" lengthAdjust="spacingAndGlyphs">0</text>
<text x="163.46" y="976.5" font-size="25.35" fill="#000" stroke="#000" stroke-width="0.2" textLength="14.78" lengthAdjust="spacingAndGlyphs">0</text>
<text x="216.49" y="976.5" font-size="25.35" fill="#000" stroke="#000" stroke-width="0.2" textLength="28.92" lengthAdjust="spacingAndGlyphs">20</text>
<text x="282.09" y="976.5" font-size="25.35" fill="#000" stroke="#000" stroke-width="0.2" textLength="29.34" lengthAdjust="spacingAndGlyphs">40</text>
<text x="348.65" y="976.5" font-size="25.35" fill="#000" stroke="#000" stroke-width="0.2" textLength="29.48" lengthAdjust="spacingAndGlyphs">60</text>
<text x="414.56" y="976.5" font-size="25.35" fill="#000" stroke="#000" stroke-width="0.2" textLength="29.16" lengthAdjust="spacingAndGlyphs">80</text>
<text x="461.7" y="976.5" font-size="25.35" fill="#000" stroke="#000" stroke-width="0.2" textLength="43.83" lengthAdjust="spacingAndGlyphs">100</text>
<text x="272.48" y="1013.2" font-size="25.73" fill="#000" stroke="#000" stroke-width="0.2" textLength="101.74" lengthAdjust="spacingAndGlyphs">Cycle [%]</text>
<line x1="597.4" y1="750.8" x2="926.7" y2="750.8" stroke="#eaeaea" stroke-width="1.3"/>
<line x1="597.4" y1="775.6" x2="926.7" y2="775.6" stroke="#eaeaea" stroke-width="1.3"/>
<line x1="597.4" y1="800.1" x2="926.7" y2="800.1" stroke="#eaeaea" stroke-width="1.3"/>
<line x1="597.4" y1="825" x2="926.7" y2="825" stroke="#eaeaea" stroke-width="1.3"/>
<line x1="597.4" y1="849.8" x2="926.7" y2="849.8" stroke="#eaeaea" stroke-width="1.3"/>
<line x1="597.4" y1="874.3" x2="926.7" y2="874.3" stroke="#eaeaea" stroke-width="1.3"/>
<line x1="597.4" y1="899.1" x2="926.7" y2="899.1" stroke="#eaeaea" stroke-width="1.3"/>
<line x1="630" y1="731" x2="630" y2="941.7" stroke="#eaeaea" stroke-width="1.3"/>
<line x1="663.4" y1="731" x2="663.4" y2="941.7" stroke="#eaeaea" stroke-width="1.3"/>
<line x1="696" y1="731" x2="696" y2="941.7" stroke="#eaeaea" stroke-width="1.3"/>
<line x1="729.4" y1="731" x2="729.4" y2="941.7" stroke="#eaeaea" stroke-width="1.3"/>
<line x1="761.7" y1="731" x2="761.7" y2="941.7" stroke="#eaeaea" stroke-width="1.3"/>
<line x1="795" y1="731" x2="795" y2="941.7" stroke="#eaeaea" stroke-width="1.3"/>
<line x1="827.7" y1="731" x2="827.7" y2="941.7" stroke="#eaeaea" stroke-width="1.3"/>
<line x1="860.7" y1="731" x2="860.7" y2="941.7" stroke="#eaeaea" stroke-width="1.3"/>
<line x1="894" y1="731" x2="894" y2="941.7" stroke="#eaeaea" stroke-width="1.3"/>
<line x1="926.7" y1="731" x2="926.7" y2="941.7" stroke="#eaeaea" stroke-width="1.3"/>
<line x1="597.4" y1="724.1" x2="597.4" y2="941.7" stroke="#7f7f7f" stroke-width="1.6"/>
<line x1="597.4" y1="921.3" x2="926.7" y2="921.3" stroke="#7f7f7f" stroke-width="1.6"/>
<path d="M597.43 921.35 C599.47 921.04 605.77 920.42 609.66 919.49 C613.56 918.57 617.08 916.71 620.79 915.78 C624.49 914.86 628.2 914.12 631.91 913.93 C635.62 913.74 639.33 915.29 643.03 914.67 C646.74 914.05 650.45 913.74 654.16 910.22 C657.86 906.7 661.57 901.57 665.28 893.54 C668.99 885.5 673 870.98 676.4 862.02 C679.8 853.06 682.89 844.22 685.67 839.77 C688.45 835.32 690.31 835.02 693.09 835.32 C695.87 835.63 698.96 837.8 702.36 841.63 C705.76 845.46 709.77 852.44 713.48 858.31 C717.19 864.18 720.9 870.98 724.61 876.85 C728.31 882.72 732.02 889.34 735.73 893.54 C739.44 897.74 742.53 900.03 746.85 902.07 C751.18 904.1 756.74 905.34 761.68 905.77 C766.63 906.21 771.57 905.16 776.51 904.66 C781.46 904.17 787.02 903.73 791.35 902.81 C795.67 901.88 798.76 900.15 802.47 899.1 C806.18 898.05 809.89 896.63 813.59 896.5 C817.3 896.38 821.01 895.76 824.72 898.36 C828.42 900.95 832.13 908.55 835.84 912.08 C839.55 915.6 843.26 917.64 846.96 919.49 C850.67 921.35 853.14 922.58 858.09 923.2 C863.03 923.82 870.45 923.2 876.63 923.2 C882.81 923.2 888.99 923.39 895.16 923.2 C901.34 923.01 908.45 922.58 913.7 922.09 C918.96 921.59 924.52 920.54 926.68 920.23" fill="none" stroke="#c21a72" stroke-width="2.2" stroke-linejoin="round" stroke-linecap="round"/>
<path d="M597.43 918.75 C599.47 918.87 605.77 918.94 609.66 919.49 C613.56 920.05 616.46 921.65 620.79 922.09 C625.11 922.52 631.29 921.72 635.62 922.09 C639.94 922.46 643.65 924.44 646.74 924.31 C649.83 924.19 651.07 924 654.16 921.35 C657.25 918.69 661.57 913.31 665.28 908.37 C668.99 903.42 672.7 898.17 676.4 891.68 C680.11 885.19 683.82 876.23 687.53 869.44 C691.23 862.64 695.25 855.35 698.65 850.9 C702.05 846.45 704.83 842.74 707.92 842.74 C711.01 842.74 713.79 846.45 717.19 850.9 C720.59 855.35 724.61 863.26 728.31 869.44 C732.02 875.62 735.73 882.1 739.44 887.98 C743.14 893.85 746.85 899.9 750.56 904.66 C754.27 909.42 757.98 913.13 761.68 916.53 C765.39 919.92 768.48 922.4 772.81 925.05 C777.13 927.71 783.31 930.49 787.64 932.47 C791.96 934.45 795.67 936.3 798.76 936.92 C801.85 937.54 803.09 938.15 806.18 936.18 C809.27 934.2 813.59 928.76 817.3 925.05 C821.01 921.35 824.72 916.71 828.42 913.93 C832.13 911.15 835.84 908.68 839.55 908.37 C843.26 908.06 846.96 910.66 850.67 912.08 C854.38 913.5 857.47 915.97 861.79 916.9 C866.12 917.82 871.68 917.76 876.63 917.64 C881.57 917.51 886.51 916.03 891.46 916.15 C896.4 916.28 901.96 917.7 906.29 918.38 C910.61 919.06 914.01 919.74 917.41 920.23 C920.81 920.73 925.14 921.16 926.68 921.35" fill="none" stroke="#0e61b6" stroke-width="2.2" stroke-linejoin="round" stroke-linecap="round"/>
<text x="687.08" y="716.4" font-size="24.86" fill="#000" stroke="#000" stroke-width="0.2" textLength="174.09" lengthAdjust="spacingAndGlyphs">Nordic Walking</text>
<text transform="translate(541.5 861.97) rotate(-90)" x="0" y="0" font-size="25.44" fill="#000" stroke="#000" stroke-width="0.2" textLength="313.9" lengthAdjust="spacingAndGlyphs">Stem Torsion Moment [Nm]</text>
<text x="558.06" y="737.3" font-size="24.63" fill="#000" stroke="#000" stroke-width="0.2" textLength="29.16" lengthAdjust="spacingAndGlyphs">80</text>
<text x="556.66" y="791.5" font-size="25.06" fill="#000" stroke="#000" stroke-width="0.2" textLength="29.37" lengthAdjust="spacingAndGlyphs">60</text>
<text x="556.1" y="840.8" font-size="24.92" fill="#000" stroke="#000" stroke-width="0.2" textLength="29.02" lengthAdjust="spacingAndGlyphs">40</text>
<text x="555.65" y="885.6" font-size="25.21" fill="#000" stroke="#000" stroke-width="0.2" textLength="29.9" lengthAdjust="spacingAndGlyphs">20</text>
<text x="570.44" y="935.7" font-size="24.63" fill="#000" stroke="#000" stroke-width="0.2" textLength="15.12" lengthAdjust="spacingAndGlyphs">0</text>
<text x="594.39" y="976.3" font-size="24.92" fill="#000" stroke="#000" stroke-width="0.2" textLength="14.43" lengthAdjust="spacingAndGlyphs">0</text>
<text x="647.16" y="976.3" font-size="24.92" fill="#000" stroke="#000" stroke-width="0.2" textLength="29.68" lengthAdjust="spacingAndGlyphs">20</text>
<text x="712.41" y="976.3" font-size="24.92" fill="#000" stroke="#000" stroke-width="0.2" textLength="28.59" lengthAdjust="spacingAndGlyphs">40</text>
<text x="778.45" y="976.3" font-size="24.92" fill="#000" stroke="#000" stroke-width="0.2" textLength="29.59" lengthAdjust="spacingAndGlyphs">60</text>
<text x="844.57" y="976.3" font-size="24.92" fill="#000" stroke="#000" stroke-width="0.2" textLength="28.84" lengthAdjust="spacingAndGlyphs">80</text>
<text x="905.61" y="976.3" font-size="24.92" fill="#000" stroke="#000" stroke-width="0.2" textLength="43.61" lengthAdjust="spacingAndGlyphs">100</text>
<text x="714.17" y="1013.5" font-size="25.87" fill="#000" stroke="#000" stroke-width="0.2" textLength="102.56" lengthAdjust="spacingAndGlyphs">Cycle [%]</text>
<line x1="165.8" y1="1094" x2="486.1" y2="1094" stroke="#eaeaea" stroke-width="1.3"/>
<line x1="165.8" y1="1129.7" x2="486.1" y2="1129.7" stroke="#eaeaea" stroke-width="1.3"/>
<line x1="165.8" y1="1165.1" x2="486.1" y2="1165.1" stroke="#eaeaea" stroke-width="1.3"/>
<line x1="165.8" y1="1200.8" x2="486.1" y2="1200.8" stroke="#eaeaea" stroke-width="1.3"/>
<line x1="165.8" y1="1236.5" x2="486.1" y2="1236.5" stroke="#eaeaea" stroke-width="1.3"/>
<line x1="165.8" y1="1271.9" x2="486.1" y2="1271.9" stroke="#eaeaea" stroke-width="1.3"/>
<line x1="198.3" y1="1094" x2="198.3" y2="1307" stroke="#eaeaea" stroke-width="1.3"/>
<line x1="230.5" y1="1094" x2="230.5" y2="1307" stroke="#eaeaea" stroke-width="1.3"/>
<line x1="262" y1="1094" x2="262" y2="1307" stroke="#eaeaea" stroke-width="1.3"/>
<line x1="293.6" y1="1094" x2="293.6" y2="1307" stroke="#eaeaea" stroke-width="1.3"/>
<line x1="325.8" y1="1094" x2="325.8" y2="1307" stroke="#eaeaea" stroke-width="1.3"/>
<line x1="358" y1="1094" x2="358" y2="1307" stroke="#eaeaea" stroke-width="1.3"/>
<line x1="389.8" y1="1094" x2="389.8" y2="1307" stroke="#eaeaea" stroke-width="1.3"/>
<line x1="421.4" y1="1094" x2="421.4" y2="1307" stroke="#eaeaea" stroke-width="1.3"/>
<line x1="453.6" y1="1094" x2="453.6" y2="1307" stroke="#eaeaea" stroke-width="1.3"/>
<line x1="485.3" y1="1094" x2="485.3" y2="1307" stroke="#eaeaea" stroke-width="1.3"/>
<line x1="165.8" y1="1092.3" x2="165.8" y2="1307.6" stroke="#7f7f7f" stroke-width="1.6"/>
<line x1="165.8" y1="1306.9" x2="486.1" y2="1306.9" stroke="#7f7f7f" stroke-width="1.6"/>
<path d="M165.76 1284.13 C167.22 1283.96 171.3 1283.84 174.51 1283.08 C177.72 1282.32 181.51 1280.57 185.01 1279.58 C188.52 1278.59 192.31 1277.83 195.52 1277.13 C198.73 1276.43 201.65 1277.3 204.27 1275.38 C206.9 1273.45 209.23 1271.29 211.27 1265.57 C213.32 1259.86 214.48 1250.4 216.53 1241.06 C218.57 1231.73 221.2 1218.89 223.53 1209.55 C225.86 1200.21 228.2 1190 230.53 1185.04 C232.87 1180.08 235.2 1180.78 237.54 1179.79 C239.87 1178.8 242.2 1178.21 244.54 1179.09 C246.87 1179.96 248.62 1181.13 251.54 1185.04 C254.46 1188.95 258.54 1196.13 262.04 1202.55 C265.55 1208.97 269.34 1217.43 272.55 1223.56 C275.76 1229.68 278.97 1235.99 281.3 1239.31 C283.64 1242.64 284.51 1243.52 286.55 1243.52 C288.6 1243.52 290.64 1242.64 293.56 1239.31 C296.48 1235.99 300.56 1230.27 304.06 1223.56 C307.56 1216.85 311.06 1205.18 314.57 1199.05 C318.07 1192.92 322.15 1188.84 325.07 1186.79 C327.99 1184.75 329.15 1185.33 332.07 1186.79 C334.99 1188.25 339.08 1191.75 342.58 1195.55 C346.08 1199.34 349 1204.3 353.08 1209.55 C357.17 1214.8 362.42 1221.81 367.09 1227.06 C371.76 1232.31 376.42 1236.4 381.09 1241.06 C385.76 1245.73 390.43 1251.28 395.1 1255.07 C399.77 1258.86 403.85 1261.78 409.1 1263.82 C414.36 1265.87 421.94 1265.87 426.61 1267.32 C431.28 1268.78 433.61 1269.95 437.11 1272.58 C440.62 1275.2 444.12 1280.16 447.62 1283.08 C451.12 1286 454.91 1288.16 458.12 1290.08 C461.33 1292.01 462.21 1293.88 466.88 1294.64 C471.55 1295.39 482.92 1294.64 486.13 1294.64" fill="none" stroke="#c21a72" stroke-width="2.2" stroke-linejoin="round" stroke-linecap="round"/>
<path d="M165.76 1272.58 C167.22 1272.58 171.3 1273.16 174.51 1272.58 C177.72 1271.99 181.8 1270.83 185.01 1269.08 C188.22 1267.32 191.14 1264.12 193.77 1262.07 C196.39 1260.03 198.73 1257.4 200.77 1256.82 C202.81 1256.24 204.27 1257.7 206.02 1258.57 C207.77 1259.45 209.52 1263.82 211.27 1262.07 C213.03 1260.32 214.48 1256.24 216.53 1248.07 C218.57 1239.9 221.2 1223.56 223.53 1213.05 C225.86 1202.55 228.2 1192.04 230.53 1185.04 C232.87 1178.04 235.49 1174.25 237.54 1171.04 C239.58 1167.83 241.04 1166.37 242.79 1165.78 C244.54 1165.2 246 1166.66 248.04 1167.54 C250.08 1168.41 252.71 1170.74 255.04 1171.04 C257.38 1171.33 259.13 1170.16 262.04 1169.29 C264.96 1168.41 269.63 1165.61 272.55 1165.78 C275.47 1165.96 276.63 1168.59 279.55 1170.34 C282.47 1172.09 286.55 1173.95 290.06 1176.29 C293.56 1178.62 297.06 1182.47 300.56 1184.34 C304.06 1186.21 307.56 1187.08 311.06 1187.49 C314.57 1187.9 318.65 1188.08 321.57 1186.79 C324.49 1185.51 326.24 1182.3 328.57 1179.79 C330.91 1177.28 332.95 1172.9 335.57 1171.74 C338.2 1170.57 341.41 1173.49 344.33 1172.79 C347.25 1172.09 349.58 1169.46 353.08 1167.54 C356.58 1165.61 361.83 1161.99 365.34 1161.23 C368.84 1160.47 370.3 1162.34 374.09 1162.98 C377.88 1163.63 384.59 1163.16 388.1 1165.08 C391.6 1167.01 392.76 1170.04 395.1 1174.54 C397.43 1179.03 399.77 1183.29 402.1 1192.04 C404.44 1200.8 406.77 1217.72 409.1 1227.06 C411.44 1236.4 414.06 1243.98 416.11 1248.07 C418.15 1252.15 419.61 1251.57 421.36 1251.57 C423.11 1251.57 424.57 1247.48 426.61 1248.07 C428.65 1248.65 431.28 1251.57 433.61 1255.07 C435.95 1258.57 438.28 1265.28 440.62 1269.08 C442.95 1272.87 445.28 1276.37 447.62 1277.83 C449.95 1279.29 452.29 1278.41 454.62 1277.83 C456.96 1277.25 459.29 1275.49 461.62 1274.33 C463.96 1273.16 466.29 1270.83 468.63 1270.83 C470.96 1270.83 473.59 1272.58 475.63 1274.33 C477.67 1276.08 479.13 1279.29 480.88 1281.33 C482.63 1283.37 485.26 1285.71 486.13 1286.58" fill="none" stroke="#0e61b6" stroke-width="2.2" stroke-linejoin="round" stroke-linecap="round"/>
<text x="213.55" y="1077" font-size="23.84" fill="#000" stroke="#000" stroke-width="0.2" textLength="222.67" lengthAdjust="spacingAndGlyphs">Aerobics (Kick Step)</text>
<text x="95.22" y="1102.9" font-size="25.64" fill="#000" stroke="#000" stroke-width="0.2" textLength="55.86" lengthAdjust="spacingAndGlyphs">6000</text>
<text x="95.93" y="1173.2" font-size="23.92" fill="#000" stroke="#000" stroke-width="0.2" textLength="55.14" lengthAdjust="spacingAndGlyphs">4000</text>
<text x="95.24" y="1247.1" font-size="25.64" fill="#000" stroke="#000" stroke-width="0.2" textLength="55.84" lengthAdjust="spacingAndGlyphs">2000</text>
<text x="137.19" y="1317.4" font-size="25.64" fill="#000" stroke="#000" stroke-width="0.2" textLength="14.43" lengthAdjust="spacingAndGlyphs">0</text>
<line x1="589.3" y1="1093.7" x2="915.6" y2="1093.7" stroke="#eaeaea" stroke-width="1.3"/>
<line x1="589.3" y1="1118.2" x2="915.6" y2="1118.2" stroke="#eaeaea" stroke-width="1.3"/>
<line x1="589.3" y1="1142.3" x2="915.6" y2="1142.3" stroke="#eaeaea" stroke-width="1.3"/>
<line x1="589.3" y1="1166.8" x2="915.6" y2="1166.8" stroke="#eaeaea" stroke-width="1.3"/>
<line x1="589.3" y1="1191.2" x2="915.6" y2="1191.2" stroke="#eaeaea" stroke-width="1.3"/>
<line x1="589.3" y1="1216.1" x2="915.6" y2="1216.1" stroke="#eaeaea" stroke-width="1.3"/>
<line x1="589.3" y1="1240.5" x2="915.6" y2="1240.5" stroke="#eaeaea" stroke-width="1.3"/>
<line x1="589.3" y1="1264.6" x2="915.6" y2="1264.6" stroke="#eaeaea" stroke-width="1.3"/>
<line x1="622.7" y1="1093" x2="622.7" y2="1309.9" stroke="#eaeaea" stroke-width="1.3"/>
<line x1="655.3" y1="1093" x2="655.3" y2="1309.9" stroke="#eaeaea" stroke-width="1.3"/>
<line x1="687.9" y1="1093" x2="687.9" y2="1309.9" stroke="#eaeaea" stroke-width="1.3"/>
<line x1="720.5" y1="1093" x2="720.5" y2="1309.9" stroke="#eaeaea" stroke-width="1.3"/>
<line x1="753.2" y1="1093" x2="753.2" y2="1309.9" stroke="#eaeaea" stroke-width="1.3"/>
<line x1="785.8" y1="1093" x2="785.8" y2="1309.9" stroke="#eaeaea" stroke-width="1.3"/>
<line x1="818.4" y1="1093" x2="818.4" y2="1309.9" stroke="#eaeaea" stroke-width="1.3"/>
<line x1="851" y1="1093" x2="851" y2="1309.9" stroke="#eaeaea" stroke-width="1.3"/>
<line x1="883.7" y1="1093" x2="883.7" y2="1309.9" stroke="#eaeaea" stroke-width="1.3"/>
<line x1="915.6" y1="1093" x2="915.6" y2="1309.9" stroke="#eaeaea" stroke-width="1.3"/>
<line x1="589.3" y1="1091" x2="589.3" y2="1309.9" stroke="#7f7f7f" stroke-width="1.6"/>
<line x1="589.3" y1="1289.5" x2="915.6" y2="1289.5" stroke="#7f7f7f" stroke-width="1.6"/>
<path d="M589.28 1276.51 C590.39 1276.33 593.61 1275.71 595.95 1275.4 C598.3 1275.09 600.9 1274.48 603.37 1274.66 C605.84 1274.85 607.7 1274.97 610.79 1276.51 C613.88 1278.06 618.51 1281.95 621.91 1283.93 C625.31 1285.91 628.71 1288.38 631.18 1288.38 C633.65 1288.38 634.58 1289.62 636.74 1283.93 C638.9 1278.24 641.68 1265.39 644.16 1254.27 C646.63 1243.14 649.1 1227.39 651.57 1217.19 C654.04 1206.99 656.52 1198.53 658.99 1193.09 C661.46 1187.65 663.93 1184.87 666.4 1184.56 C668.88 1184.25 670.73 1185.8 673.82 1191.23 C676.91 1196.67 681.23 1206.68 684.94 1217.19 C688.65 1227.69 692.67 1244.07 696.07 1254.27 C699.46 1264.46 702.55 1273.12 705.34 1278.37 C708.12 1283.62 709.97 1285.17 712.75 1285.78 C715.53 1286.4 718.62 1285.48 722.02 1282.08 C725.42 1278.68 729.44 1272.5 733.14 1265.39 C736.85 1258.28 740.56 1246.85 744.27 1239.44 C747.98 1232.02 752.3 1223.99 755.39 1220.9 C758.48 1217.81 759.72 1219.97 762.81 1220.9 C765.9 1221.82 769.6 1223.37 773.93 1226.46 C778.26 1229.55 784.44 1235.91 788.76 1239.44 C793.09 1242.96 796.18 1245.43 799.89 1247.59 C803.59 1249.76 807.3 1249.45 811.01 1252.41 C814.72 1255.38 818.73 1261.07 822.13 1265.39 C825.53 1269.72 828.93 1275.53 831.4 1278.37 C833.87 1281.21 834.49 1283.37 836.96 1282.45 C839.44 1281.52 842.83 1276.58 846.23 1272.81 C849.63 1269.04 853.96 1262.8 857.36 1259.83 C860.76 1256.86 863.85 1254.7 866.63 1255.01 C869.41 1255.32 870.95 1258.1 874.04 1261.68 C877.13 1265.27 881.46 1272.37 885.16 1276.51 C888.87 1280.66 892.58 1284.24 896.29 1286.53 C900 1288.81 904.2 1289.55 907.41 1290.23 C910.63 1290.91 914.21 1290.54 915.57 1290.6" fill="none" stroke="#c21a72" stroke-width="2.2" stroke-linejoin="round" stroke-linecap="round"/>
<path d="M589.28 1256.12 C590.39 1255.5 593.61 1253.65 595.95 1252.41 C598.3 1251.18 600.9 1250.56 603.37 1248.71 C605.84 1246.85 608.01 1244.19 610.79 1241.29 C613.57 1238.39 617.58 1232.52 620.06 1231.28 C622.53 1230.04 623.76 1230.66 625.62 1233.87 C627.47 1237.09 629.33 1245.93 631.18 1250.56 C633.03 1255.19 634.89 1260.45 636.74 1261.68 C638.59 1262.92 640.14 1263.54 642.3 1257.98 C644.47 1252.41 647.25 1238.2 649.72 1228.31 C652.19 1218.43 654.66 1207.18 657.13 1198.65 C659.61 1190.12 662.7 1181.16 664.55 1177.14 C666.4 1173.13 666.4 1174.06 668.26 1174.55 C670.11 1175.04 672.89 1178.26 675.67 1180.11 C678.45 1181.97 681.54 1182.89 684.94 1185.67 C688.34 1188.45 692.98 1192.78 696.07 1196.8 C699.16 1200.81 701.01 1204.52 703.48 1209.77 C705.95 1215.03 708.43 1224.61 710.9 1228.31 C713.37 1232.02 715.84 1231.4 718.31 1232.02 C720.78 1232.64 722.64 1232.95 725.73 1232.02 C728.82 1231.09 733.76 1226.77 736.85 1226.46 C739.94 1226.15 741.49 1228.13 744.27 1230.17 C747.05 1232.21 751.07 1238.08 753.54 1238.69 C756.01 1239.31 756.32 1237.46 759.1 1233.87 C761.88 1230.29 766.51 1223.06 770.22 1217.19 C773.93 1211.32 777.64 1204.83 781.35 1198.65 C785.05 1192.47 789.38 1184.75 792.47 1180.11 C795.56 1175.48 796.18 1173 799.89 1170.84 C803.59 1168.68 811.01 1165.59 814.72 1167.13 C818.42 1168.68 819.66 1173.62 822.13 1180.11 C824.6 1186.6 827.38 1196.18 829.55 1206.07 C831.71 1215.95 832.95 1229.24 835.11 1239.44 C837.27 1249.63 840.36 1261.68 842.53 1267.25 C844.69 1272.81 846.23 1274.35 848.09 1272.81 C849.94 1271.26 851.79 1264.28 853.65 1257.98 C855.5 1251.67 857.05 1238.08 859.21 1234.99 C861.37 1231.9 863.54 1235.6 866.63 1239.44 C869.72 1243.27 874.04 1254.14 877.75 1257.98 C881.46 1261.81 885.16 1261.31 888.87 1262.42 C892.58 1263.54 896.6 1263.54 900 1264.65 C903.4 1265.76 906.67 1267.62 909.27 1269.1 C911.86 1270.58 914.52 1272.81 915.57 1273.55" fill="none" stroke="#0e61b6" stroke-width="2.2" stroke-linejoin="round" stroke-linecap="round"/>
<text x="654.45" y="1077" font-size="23.84" fill="#000" stroke="#000" stroke-width="0.2" textLength="222.37" lengthAdjust="spacingAndGlyphs">Aerobics (Kick Step)</text>
<text transform="translate(530.7 1480.46) rotate(-90)" x="0" y="0" font-size="26.02" fill="#000" stroke="#000" stroke-width="0.2" textLength="312.48" lengthAdjust="spacingAndGlyphs">Stem Torsion Moment [Nm]</text>
<text x="550.47" y="1105.7" font-size="25.78" fill="#000" stroke="#000" stroke-width="0.2" textLength="28.95" lengthAdjust="spacingAndGlyphs">80</text>
<text x="548.3" y="1159.8" font-size="26.07" fill="#000" stroke="#000" stroke-width="0.2" textLength="28.5" lengthAdjust="spacingAndGlyphs">60</text>
<text x="547.91" y="1208.7" font-size="25.78" fill="#000" stroke="#000" stroke-width="0.2" textLength="28.38" lengthAdjust="spacingAndGlyphs">40</text>
<text x="548.31" y="1253" font-size="25.78" fill="#000" stroke="#000" stroke-width="0.2" textLength="28.49" lengthAdjust="spacingAndGlyphs">20</text>
<text x="562.54" y="1302.4" font-size="25.78" fill="#000" stroke="#000" stroke-width="0.2" textLength="13.73" lengthAdjust="spacingAndGlyphs">0</text>
<line x1="167.5" y1="1379.6" x2="490" y2="1379.6" stroke="#eaeaea" stroke-width="1.3"/>
<line x1="167.5" y1="1414.6" x2="490" y2="1414.6" stroke="#eaeaea" stroke-width="1.3"/>
<line x1="167.5" y1="1451" x2="490" y2="1451" stroke="#eaeaea" stroke-width="1.3"/>
<line x1="167.5" y1="1486.4" x2="490" y2="1486.4" stroke="#eaeaea" stroke-width="1.3"/>
<line x1="167.5" y1="1522.1" x2="490" y2="1522.1" stroke="#eaeaea" stroke-width="1.3"/>
<line x1="200" y1="1351" x2="200" y2="1558" stroke="#eaeaea" stroke-width="1.3"/>
<line x1="232.3" y1="1351" x2="232.3" y2="1558" stroke="#eaeaea" stroke-width="1.3"/>
<line x1="263.8" y1="1351" x2="263.8" y2="1558" stroke="#eaeaea" stroke-width="1.3"/>
<line x1="295.3" y1="1351" x2="295.3" y2="1558" stroke="#eaeaea" stroke-width="1.3"/>
<line x1="327.5" y1="1351" x2="327.5" y2="1558" stroke="#eaeaea" stroke-width="1.3"/>
<line x1="359.4" y1="1351" x2="359.4" y2="1558" stroke="#eaeaea" stroke-width="1.3"/>
<line x1="391.6" y1="1351" x2="391.6" y2="1558" stroke="#eaeaea" stroke-width="1.3"/>
<line x1="423.1" y1="1351" x2="423.1" y2="1558" stroke="#eaeaea" stroke-width="1.3"/>
<line x1="454.6" y1="1351" x2="454.6" y2="1558" stroke="#eaeaea" stroke-width="1.3"/>
<line x1="167.5" y1="1345.3" x2="167.5" y2="1558.8" stroke="#7f7f7f" stroke-width="1.6"/>
<line x1="167.5" y1="1558.1" x2="490" y2="1558.1" stroke="#7f7f7f" stroke-width="1.6"/>
<path d="M167.51 1508.07 C168.97 1508.65 173.34 1511.86 176.26 1511.57 C179.18 1511.28 182.1 1509.82 185.01 1506.32 C187.93 1502.82 191.14 1494.94 193.77 1490.56 C196.39 1486.18 197.85 1481.81 200.77 1480.06 C203.69 1478.31 208.36 1480.17 211.27 1480.06 C214.19 1479.94 215.94 1480.35 218.28 1479.36 C220.61 1478.36 222.07 1475.15 225.28 1474.1 C228.49 1473.05 234.33 1474.4 237.54 1473.05 C240.74 1471.71 242.2 1473.64 244.54 1466.05 C246.87 1458.46 248.91 1437.75 251.54 1427.54 C254.17 1417.32 257.96 1405.94 260.29 1404.78 C262.63 1403.61 263.5 1413.82 265.55 1420.53 C267.59 1427.24 270.21 1435.12 272.55 1445.04 C274.88 1454.96 276.93 1468.68 279.55 1480.06 C282.18 1491.44 285.97 1510.99 288.31 1513.32 C290.64 1515.65 291.81 1499.61 293.56 1494.06 C295.31 1488.52 296.48 1481.81 298.81 1480.06 C301.14 1478.31 303.77 1481.81 307.56 1483.56 C311.36 1485.31 317.48 1488.81 321.57 1490.56 C325.65 1492.31 329.15 1492.31 332.07 1494.06 C334.99 1495.81 337.03 1500.77 339.08 1501.06 C341.12 1501.36 341.99 1497.56 344.33 1495.81 C346.66 1494.06 350.75 1496.1 353.08 1490.56 C355.42 1485.02 356.58 1472.18 358.33 1462.55 C360.08 1452.92 361.25 1442.3 363.59 1432.79 C365.92 1423.27 370 1407.52 372.34 1405.48 C374.67 1403.43 375.55 1415.11 377.59 1420.53 C379.63 1425.96 381.68 1432.2 384.59 1438.04 C387.51 1443.87 392.18 1451.46 395.1 1455.55 C398.02 1459.63 399.77 1459.05 402.1 1462.55 C404.44 1466.05 406.77 1471.3 409.1 1476.55 C411.44 1481.81 413.77 1488.23 416.11 1494.06 C418.44 1499.9 420.48 1507.08 423.11 1511.57 C425.74 1516.06 429.53 1520.15 431.86 1521.02 C434.2 1521.9 435.07 1519.86 437.11 1516.82 C439.16 1513.79 441.78 1506.02 444.12 1502.82 C446.45 1499.61 448.79 1497.85 451.12 1497.56 C453.45 1497.27 455.79 1498.73 458.12 1501.06 C460.46 1503.4 462.21 1508.07 465.13 1511.57 C468.04 1515.07 472.13 1519.15 475.63 1522.07 C479.13 1524.99 484.38 1527.91 486.13 1529.08" fill="none" stroke="#c21a72" stroke-width="2.2" stroke-linejoin="round" stroke-linecap="round"/>
<path d="M167.51 1497.56 C168.09 1499.9 169.55 1506.32 171.01 1511.57 C172.47 1516.82 174.51 1527.32 176.26 1529.08 C178.01 1530.83 179.76 1527.32 181.51 1522.07 C183.26 1516.82 184.9 1505.44 186.76 1497.56 C188.63 1489.68 190.67 1478.01 192.72 1474.8 C194.76 1471.59 196.8 1477.43 199.02 1478.31 C201.24 1479.18 203.69 1478.31 206.02 1480.06 C208.36 1481.81 210.69 1486.59 213.03 1488.81 C215.36 1491.03 217.11 1492.19 220.03 1493.36 C222.95 1494.53 227.03 1494.82 230.53 1495.81 C234.03 1496.8 238.12 1500.19 241.04 1499.31 C243.95 1498.44 246 1497.85 248.04 1490.56 C250.08 1483.27 251.54 1468.97 253.29 1455.55 C255.04 1442.12 256.79 1421.7 258.54 1410.03 C260.29 1398.36 261.75 1388.44 263.8 1385.52 C265.84 1382.6 268.76 1387.85 270.8 1392.52 C272.84 1397.19 274.3 1404.19 276.05 1413.53 C277.8 1422.87 279.55 1435.7 281.3 1448.54 C283.05 1461.38 285.1 1482.1 286.55 1490.56 C288.01 1499.02 288.89 1503.4 290.06 1499.31 C291.22 1495.23 292.39 1473.64 293.56 1466.05 C294.72 1458.46 295.6 1454.38 297.06 1453.8 C298.52 1453.21 299.98 1461.38 302.31 1462.55 C304.65 1463.72 307.85 1459.92 311.06 1460.8 C314.27 1461.67 318.07 1466.34 321.57 1467.8 C325.07 1469.26 328.57 1468.68 332.07 1469.55 C335.57 1470.43 339.66 1470.43 342.58 1473.05 C345.49 1475.68 347.54 1486.48 349.58 1485.31 C351.62 1484.14 353.08 1473.35 354.83 1466.05 C356.58 1458.76 358.04 1447.96 360.08 1441.54 C362.13 1435.12 364.75 1434.54 367.09 1427.54 C369.42 1420.53 371.76 1409.74 374.09 1399.52 C376.42 1389.31 379.34 1372.1 381.09 1366.26 C382.84 1360.42 383.13 1362.18 384.59 1364.51 C386.05 1366.84 388.1 1374.43 389.85 1380.27 C391.6 1386.1 393.06 1392.81 395.1 1399.52 C397.14 1406.23 399.77 1412.65 402.1 1420.53 C404.44 1428.41 406.77 1438.33 409.1 1446.79 C411.44 1455.25 413.19 1464.59 416.11 1471.3 C419.02 1478.01 422.53 1483.27 426.61 1487.06 C430.7 1490.85 437.11 1494.35 440.62 1494.06 C444.12 1493.77 445.28 1487.06 447.62 1485.31 C449.95 1483.56 452.29 1483.73 454.62 1483.56 C456.96 1483.38 459.29 1484.84 461.62 1484.26 C463.96 1483.67 466.29 1481.34 468.63 1480.06 C470.96 1478.77 472.71 1476.67 475.63 1476.55 C478.55 1476.44 484.38 1478.89 486.13 1479.36" fill="none" stroke="#0e61b6" stroke-width="2.2" stroke-linejoin="round" stroke-linecap="round"/>
<text x="226.49" y="1340" font-size="24.13" fill="#000" stroke="#000" stroke-width="0.2" textLength="227.41" lengthAdjust="spacingAndGlyphs">Weightlifting (40 kg)</text>
<text transform="translate(75 1476.75) rotate(-90)" x="0" y="0" font-size="26.45" fill="#000" stroke="#000" stroke-width="0.2" textLength="300.54" lengthAdjust="spacingAndGlyphs">Hip Joint Contact Force [N]</text>
<text transform="translate(32.1 1444.37) rotate(-90)" x="0" y="0" font-size="24.98" fill="#efbc0a" stroke="#efbc0a" stroke-width="0.2" textLength="232.77" lengthAdjust="spacingAndGlyphs">intermediate-impact</text>
<text x="96.42" y="1359.1" font-size="25.64" fill="#000" stroke="#000" stroke-width="0.2" textLength="55.86" lengthAdjust="spacingAndGlyphs">6000</text>
<text x="97.13" y="1428.2" font-size="25.64" fill="#000" stroke="#000" stroke-width="0.2" textLength="55.14" lengthAdjust="spacingAndGlyphs">4000</text>
<text x="96.44" y="1502.1" font-size="25.64" fill="#000" stroke="#000" stroke-width="0.2" textLength="55.84" lengthAdjust="spacingAndGlyphs">2000</text>
<text x="139.17" y="1572.5" font-size="23.77" fill="#000" stroke="#000" stroke-width="0.2" textLength="14.66" lengthAdjust="spacingAndGlyphs">0</text>
<text x="166.88" y="1593" font-size="25.06" fill="#000" stroke="#000" stroke-width="0.2" textLength="15.94" lengthAdjust="spacingAndGlyphs">0</text>
<text x="219.13" y="1593" font-size="25.06" fill="#000" stroke="#000" stroke-width="0.2" textLength="30.23" lengthAdjust="spacingAndGlyphs">20</text>
<text x="286.03" y="1593" font-size="25.06" fill="#000" stroke="#000" stroke-width="0.2" textLength="27.85" lengthAdjust="spacingAndGlyphs">40</text>
<text x="351.87" y="1593" font-size="25.06" fill="#000" stroke="#000" stroke-width="0.2" textLength="31.22" lengthAdjust="spacingAndGlyphs">60</text>
<text x="417.4" y="1593" font-size="25.06" fill="#000" stroke="#000" stroke-width="0.2" textLength="28.08" lengthAdjust="spacingAndGlyphs">80</text>
<text x="464.76" y="1593" font-size="25.06" fill="#000" stroke="#000" stroke-width="0.2" textLength="42.54" lengthAdjust="spacingAndGlyphs">100</text>
<text x="280.48" y="1630" font-size="25.58" fill="#000" stroke="#000" stroke-width="0.2" textLength="101.23" lengthAdjust="spacingAndGlyphs">Cycle [%]</text>
<line x1="587.4" y1="1367.8" x2="916.7" y2="1367.8" stroke="#eaeaea" stroke-width="1.3"/>
<line x1="587.4" y1="1391.9" x2="916.7" y2="1391.9" stroke="#eaeaea" stroke-width="1.3"/>
<line x1="587.4" y1="1416.8" x2="916.7" y2="1416.8" stroke="#eaeaea" stroke-width="1.3"/>
<line x1="587.4" y1="1441.2" x2="916.7" y2="1441.2" stroke="#eaeaea" stroke-width="1.3"/>
<line x1="587.4" y1="1466" x2="916.7" y2="1466" stroke="#eaeaea" stroke-width="1.3"/>
<line x1="587.4" y1="1490.2" x2="916.7" y2="1490.2" stroke="#eaeaea" stroke-width="1.3"/>
<line x1="587.4" y1="1514.3" x2="916.7" y2="1514.3" stroke="#eaeaea" stroke-width="1.3"/>
<line x1="621.9" y1="1350" x2="621.9" y2="1560.6" stroke="#eaeaea" stroke-width="1.3"/>
<line x1="654.5" y1="1350" x2="654.5" y2="1560.6" stroke="#eaeaea" stroke-width="1.3"/>
<line x1="687.5" y1="1350" x2="687.5" y2="1560.6" stroke="#eaeaea" stroke-width="1.3"/>
<line x1="720.2" y1="1350" x2="720.2" y2="1560.6" stroke="#eaeaea" stroke-width="1.3"/>
<line x1="752.8" y1="1350" x2="752.8" y2="1560.6" stroke="#eaeaea" stroke-width="1.3"/>
<line x1="785.4" y1="1350" x2="785.4" y2="1560.6" stroke="#eaeaea" stroke-width="1.3"/>
<line x1="818.4" y1="1350" x2="818.4" y2="1560.6" stroke="#eaeaea" stroke-width="1.3"/>
<line x1="851" y1="1350" x2="851" y2="1560.6" stroke="#eaeaea" stroke-width="1.3"/>
<line x1="884" y1="1350" x2="884" y2="1560.6" stroke="#eaeaea" stroke-width="1.3"/>
<line x1="916.7" y1="1350" x2="916.7" y2="1560.6" stroke="#eaeaea" stroke-width="1.3"/>
<line x1="587.4" y1="1343.7" x2="587.4" y2="1560.6" stroke="#7f7f7f" stroke-width="1.6"/>
<line x1="587.4" y1="1539.1" x2="910.4" y2="1539.1" stroke="#7f7f7f" stroke-width="1.6"/>
<path d="M587.43 1514.27 C588.23 1513.77 590.21 1511.49 592.25 1511.3 C594.29 1511.12 597.19 1512.04 599.66 1513.16 C602.13 1514.27 604.61 1515.94 607.08 1517.98 C609.55 1520.01 612.02 1524.65 614.49 1525.39 C616.97 1526.13 619.44 1522.42 621.91 1522.42 C624.38 1522.42 626.85 1523.97 629.33 1525.39 C631.8 1526.81 634.27 1530.03 636.74 1530.95 C639.21 1531.88 641.68 1531.26 644.16 1530.95 C646.63 1530.64 648.79 1529.72 651.57 1529.1 C654.35 1528.48 658.06 1529.1 660.84 1527.25 C663.62 1525.39 665.48 1520.45 668.26 1517.98 C671.04 1515.5 674.75 1515.5 677.53 1512.41 C680.31 1509.32 681.54 1503.45 684.94 1499.44 C688.34 1495.42 694.52 1487.08 697.92 1488.31 C701.32 1489.55 702.55 1499 705.34 1506.85 C708.12 1514.7 711.21 1530.46 714.61 1535.4 C718 1540.35 721.4 1536.51 725.73 1536.51 C730.05 1536.51 735.62 1535.71 740.56 1535.4 C745.5 1535.09 751.07 1535.71 755.39 1534.66 C759.72 1533.61 762.81 1533.73 766.51 1529.1 C770.22 1524.46 774.55 1514.89 777.64 1506.85 C780.73 1498.82 782.58 1484.3 785.05 1480.9 C787.53 1477.5 790.12 1485.53 792.47 1486.46 C794.82 1487.39 796.98 1482.44 799.14 1486.46 C801.31 1490.48 802.85 1504.07 805.45 1510.56 C808.04 1517.05 811.63 1520.14 814.72 1525.39 C817.81 1530.64 821.21 1539.6 823.99 1542.08 C826.77 1544.55 828.93 1543 831.4 1540.22 C833.87 1537.44 836.35 1529.72 838.82 1525.39 C841.29 1521.07 843.45 1515.5 846.23 1514.27 C849.01 1513.03 852.1 1515.5 855.5 1517.98 C858.9 1520.45 862.92 1526.01 866.63 1529.1 C870.33 1532.19 874.04 1535.28 877.75 1536.51 C881.46 1537.75 884.55 1535.59 888.87 1536.51 C893.2 1537.44 899.25 1540.84 903.7 1542.08 C908.15 1543.31 913.59 1543.62 915.57 1543.93" fill="none" stroke="#c21a72" stroke-width="2.2" stroke-linejoin="round" stroke-linecap="round"/>
<path d="M587.43 1523.54 C589.16 1523.85 594.84 1526.01 597.81 1525.39 C600.77 1524.77 602.75 1523.54 605.22 1519.83 C607.7 1516.12 610.17 1507.78 612.64 1503.14 C615.11 1498.51 617.58 1492.95 620.06 1492.02 C622.53 1491.09 625 1494.8 627.47 1497.58 C629.94 1500.36 632.11 1505.31 634.89 1508.71 C637.67 1512.1 641.38 1515.38 644.16 1517.98 C646.94 1520.57 648.48 1523.04 651.57 1524.28 C654.66 1525.51 659.61 1526.44 662.7 1525.39 C665.79 1524.34 667.95 1522.92 670.11 1517.98 C672.27 1513.03 674.13 1505.62 675.67 1495.73 C677.22 1485.84 677.84 1471.01 679.38 1458.65 C680.93 1446.29 683.4 1427.13 684.94 1421.57 C686.49 1416.01 687.11 1417.86 688.65 1425.28 C690.2 1432.7 692.36 1456.8 694.21 1466.07 C696.07 1475.34 697.61 1473.48 699.77 1480.9 C701.94 1488.31 704.72 1503.14 707.19 1510.56 C709.66 1517.98 712.13 1521.99 714.61 1525.39 C717.08 1528.79 719.86 1531.14 722.02 1530.95 C724.18 1530.77 725.42 1525.21 727.58 1524.28 C729.75 1523.35 732.84 1524.9 735 1525.39 C737.16 1525.89 738.4 1526.63 740.56 1527.25 C742.72 1527.86 744.89 1528.67 747.98 1529.1 C751.07 1529.53 755.39 1529.66 759.1 1529.84 C762.81 1530.03 767.13 1532.19 770.22 1530.21 C773.31 1528.23 775.17 1526.19 777.64 1517.98 C780.11 1509.76 782.58 1489.55 785.05 1480.9 C787.53 1472.25 790 1472.25 792.47 1466.07 C794.94 1459.89 797.41 1451.23 799.89 1443.82 C802.36 1436.4 805.14 1427.13 807.3 1421.57 C809.46 1416.01 810.7 1412.3 812.86 1410.45 C815.03 1408.59 817.5 1407.36 820.28 1410.45 C823.06 1413.54 827.08 1424.35 829.55 1428.99 C832.02 1433.62 833.26 1430.84 835.11 1438.26 C836.96 1445.67 838.51 1463.9 840.67 1473.48 C842.83 1483.06 845 1489.86 848.09 1495.73 C851.18 1501.6 856.12 1506.54 859.21 1508.71 C862.3 1510.87 864.15 1510.25 866.63 1508.71 C869.1 1507.16 871.57 1501.91 874.04 1499.44 C876.51 1496.96 878.99 1494.49 881.46 1493.87 C883.93 1493.26 886.4 1496.04 888.87 1495.73 C891.34 1495.42 893.82 1493.44 896.29 1492.02 C898.76 1490.6 901.23 1487.82 903.7 1487.2 C906.18 1486.58 909.14 1487.51 911.12 1488.31 C913.1 1489.12 914.83 1491.4 915.57 1492.02" fill="none" stroke="#0e61b6" stroke-width="2.2" stroke-linejoin="round" stroke-linecap="round"/>
<text x="656.49" y="1337.7" font-size="24.13" fill="#000" stroke="#000" stroke-width="0.2" textLength="227.41" lengthAdjust="spacingAndGlyphs">Weightlifting (40 kg)</text>
<text x="552.23" y="1353.2" font-size="22.2" fill="#000" stroke="#000" stroke-width="0.2" textLength="24.95" lengthAdjust="spacingAndGlyphs">80</text>
<text x="547.17" y="1410.3" font-size="26.5" fill="#000" stroke="#000" stroke-width="0.2" textLength="29.15" lengthAdjust="spacingAndGlyphs">60</text>
<text x="546.91" y="1459" font-size="25.06" fill="#000" stroke="#000" stroke-width="0.2" textLength="28.38" lengthAdjust="spacingAndGlyphs">40</text>
<text x="547.18" y="1503.9" font-size="25.92" fill="#000" stroke="#000" stroke-width="0.2" textLength="29.14" lengthAdjust="spacingAndGlyphs">20</text>
<text x="561.35" y="1552.8" font-size="25.06" fill="#000" stroke="#000" stroke-width="0.2" textLength="15.01" lengthAdjust="spacingAndGlyphs">0</text>
<text x="593.99" y="1596.3" font-size="25.49" fill="#000" stroke="#000" stroke-width="0.2" textLength="14.43" lengthAdjust="spacingAndGlyphs">0</text>
<text x="646.16" y="1596.3" font-size="25.49" fill="#000" stroke="#000" stroke-width="0.2" textLength="29.68" lengthAdjust="spacingAndGlyphs">20</text>
<text x="712.43" y="1596.3" font-size="25.49" fill="#000" stroke="#000" stroke-width="0.2" textLength="27.75" lengthAdjust="spacingAndGlyphs">40</text>
<text x="777.2" y="1596.3" font-size="25.49" fill="#000" stroke="#000" stroke-width="0.2" textLength="28.39" lengthAdjust="spacingAndGlyphs">60</text>
<text x="843.41" y="1596.3" font-size="25.49" fill="#000" stroke="#000" stroke-width="0.2" textLength="27.98" lengthAdjust="spacingAndGlyphs">80</text>
<text x="903.68" y="1596.3" font-size="25.49" fill="#000" stroke="#000" stroke-width="0.2" textLength="42" lengthAdjust="spacingAndGlyphs">100</text>
<text x="712.79" y="1631.5" font-size="26.16" fill="#000" stroke="#000" stroke-width="0.2" textLength="100.92" lengthAdjust="spacingAndGlyphs">Cycle [%]</text>
<line x1="161.6" y1="1707.5" x2="486" y2="1707.5" stroke="#eaeaea" stroke-width="1.3"/>
<line x1="161.6" y1="1743.6" x2="486" y2="1743.6" stroke="#eaeaea" stroke-width="1.3"/>
<line x1="161.6" y1="1780" x2="486" y2="1780" stroke="#eaeaea" stroke-width="1.3"/>
<line x1="161.6" y1="1816" x2="486" y2="1816" stroke="#eaeaea" stroke-width="1.3"/>
<line x1="161.6" y1="1851.8" x2="486" y2="1851.8" stroke="#eaeaea" stroke-width="1.3"/>
<line x1="161.6" y1="1887.8" x2="486" y2="1887.8" stroke="#eaeaea" stroke-width="1.3"/>
<line x1="193.8" y1="1703.3" x2="193.8" y2="1922.8" stroke="#eaeaea" stroke-width="1.3"/>
<line x1="226" y1="1703.3" x2="226" y2="1922.8" stroke="#eaeaea" stroke-width="1.3"/>
<line x1="257.8" y1="1703.3" x2="257.8" y2="1922.8" stroke="#eaeaea" stroke-width="1.3"/>
<line x1="290" y1="1703.3" x2="290" y2="1922.8" stroke="#eaeaea" stroke-width="1.3"/>
<line x1="322.3" y1="1703.3" x2="322.3" y2="1922.8" stroke="#eaeaea" stroke-width="1.3"/>
<line x1="354.8" y1="1703.3" x2="354.8" y2="1922.8" stroke="#eaeaea" stroke-width="1.3"/>
<line x1="386.7" y1="1703.3" x2="386.7" y2="1922.8" stroke="#eaeaea" stroke-width="1.3"/>
<line x1="418.9" y1="1703.3" x2="418.9" y2="1922.8" stroke="#eaeaea" stroke-width="1.3"/>
<line x1="451.1" y1="1703.3" x2="451.1" y2="1922.8" stroke="#eaeaea" stroke-width="1.3"/>
<line x1="161.6" y1="1703.3" x2="161.6" y2="1922.8" stroke="#7f7f7f" stroke-width="1.6"/>
<line x1="161.6" y1="1922.8" x2="486" y2="1922.8" stroke="#7f7f7f" stroke-width="1.6"/>
<path d="M161.55 1911.29 C162.84 1910.59 166.81 1911.29 169.26 1907.09 C171.71 1902.89 173.63 1894.83 176.26 1886.08 C178.89 1877.32 181.8 1862.15 185.01 1854.57 C188.22 1846.98 192.31 1843.59 195.52 1840.56 C198.73 1837.53 201.35 1836.94 204.27 1836.36 C207.19 1835.77 210.11 1839.86 213.03 1837.06 C215.94 1834.26 219.33 1823.75 221.78 1819.55 C224.23 1815.35 225.69 1811.56 227.73 1811.85 C229.77 1812.14 231.82 1816.52 234.03 1821.3 C236.25 1826.09 238.7 1831.51 241.04 1840.56 C243.37 1849.61 245.41 1868.86 248.04 1875.57 C250.67 1882.29 253.87 1877.91 256.79 1880.83 C259.71 1883.74 262.63 1890.16 265.55 1893.08 C268.46 1896 271.67 1901.25 274.3 1898.33 C276.93 1895.42 278.68 1889 281.3 1875.57 C283.93 1862.15 287.14 1828.89 290.06 1817.8 C292.97 1806.71 296.48 1812.84 298.81 1809.05 C301.14 1805.25 302.02 1802.92 304.06 1795.04 C306.1 1787.16 308.73 1768.9 311.06 1761.78 C313.4 1754.66 315.73 1750.87 318.07 1752.32 C320.4 1753.78 322.74 1761.66 325.07 1770.53 C327.4 1779.4 329.45 1791.54 332.07 1805.55 C334.7 1819.55 337.91 1840.27 340.83 1854.57 C343.74 1868.86 346.37 1882.46 349.58 1891.33 C352.79 1900.2 356.87 1904.87 360.08 1907.79 C363.29 1910.7 365.92 1910.7 368.84 1908.84 C371.76 1906.97 374.96 1900.67 377.59 1896.58 C380.22 1892.5 382.55 1886.08 384.59 1884.33 C386.64 1882.58 387.8 1893.37 389.85 1886.08 C391.89 1878.78 394.51 1852.23 396.85 1840.56 C399.18 1828.89 401.23 1817.8 403.85 1816.05 C406.48 1814.3 409.4 1822.47 412.61 1830.06 C415.81 1837.64 419.02 1853.4 423.11 1861.57 C427.19 1869.74 432.45 1873.82 437.11 1879.08 C441.78 1884.33 446.45 1889 451.12 1893.08 C455.79 1897.17 461.04 1901.37 465.13 1903.59 C469.21 1905.8 472.13 1906.39 475.63 1906.39 C479.13 1906.39 484.38 1904.05 486.13 1903.59" fill="none" stroke="#c21a72" stroke-width="2.2" stroke-linejoin="round" stroke-linecap="round"/>
<path d="M161.55 1900.08 C162.55 1899.5 165.35 1900.67 167.51 1896.58 C169.67 1892.5 172.18 1884.91 174.51 1875.57 C176.84 1866.24 179.18 1848.32 181.51 1840.56 C183.85 1832.8 186.18 1829.01 188.52 1829.01 C190.85 1829.01 192.6 1836.59 195.52 1840.56 C198.44 1844.53 202.81 1849.9 206.02 1852.82 C209.23 1855.73 211.57 1857.48 214.78 1858.07 C217.99 1858.65 222.36 1858.65 225.28 1856.32 C228.2 1853.98 229.95 1847.74 232.28 1844.06 C234.62 1840.39 237.24 1833.67 239.29 1834.26 C241.33 1834.84 242.79 1841.84 244.54 1847.56 C246.29 1853.28 248.04 1864.49 249.79 1868.57 C251.54 1872.66 253 1869.45 255.04 1872.07 C257.08 1874.7 259.13 1880.53 262.04 1884.33 C264.96 1888.12 269.34 1892.09 272.55 1894.83 C275.76 1897.57 278.68 1904.58 281.3 1900.78 C283.93 1896.99 285.97 1881.53 288.31 1872.07 C290.64 1862.62 292.97 1857.78 295.31 1844.06 C297.64 1830.35 300.27 1797.38 302.31 1789.79 C304.35 1782.2 305.81 1803.5 307.56 1798.54 C309.31 1793.58 311.18 1770.71 312.82 1760.03 C314.45 1749.35 315.91 1735.93 317.37 1734.47 C318.83 1733.01 319.7 1744.68 321.57 1751.27 C323.44 1757.87 326.24 1764.4 328.57 1774.03 C330.91 1783.66 333.53 1798.25 335.57 1809.05 C337.62 1819.84 338.78 1832.97 340.83 1838.81 C342.87 1844.65 345.79 1838.52 347.83 1844.06 C349.87 1849.61 351.04 1863.32 353.08 1872.07 C355.12 1880.83 357.17 1891.04 360.08 1896.58 C363 1902.13 367.09 1903.76 370.59 1905.34 C374.09 1906.91 377.59 1906.91 381.09 1906.04 C384.59 1905.16 388.39 1902.54 391.6 1900.08 C394.81 1897.63 397.43 1892.61 400.35 1891.33 C403.27 1890.05 405.89 1896.17 409.1 1892.38 C412.31 1888.59 416.4 1876.04 419.61 1868.57 C422.82 1861.1 425.15 1848.73 428.36 1847.56 C431.57 1846.4 435.66 1858.65 438.87 1861.57 C442.08 1864.49 444.99 1862.15 447.62 1865.07 C450.25 1867.99 451.7 1873.24 454.62 1879.08 C457.54 1884.91 461.62 1894.95 465.13 1900.08 C468.63 1905.22 472.13 1908.43 475.63 1909.89 C479.13 1911.35 484.38 1909.01 486.13 1908.84" fill="none" stroke="#0e61b6" stroke-width="2.2" stroke-linejoin="round" stroke-linecap="round"/>
<text x="190.26" y="1694.9" font-size="26.02" fill="#000" stroke="#000" stroke-width="0.2" textLength="270.6" lengthAdjust="spacingAndGlyphs">Soccer (Kicking the ball)</text>
<text x="90.51" y="1716.9" font-size="25.64" fill="#000" stroke="#000" stroke-width="0.2" textLength="56.38" lengthAdjust="spacingAndGlyphs">6000</text>
<text x="91.23" y="1788.4" font-size="23.77" fill="#000" stroke="#000" stroke-width="0.2" textLength="55.65" lengthAdjust="spacingAndGlyphs">4000</text>
<text x="90.53" y="1862.3" font-size="25.64" fill="#000" stroke="#000" stroke-width="0.2" textLength="56.36" lengthAdjust="spacingAndGlyphs">2000</text>
<text x="132.49" y="1933.8" font-size="27.35" fill="#000" stroke="#000" stroke-width="0.2" textLength="14.43" lengthAdjust="spacingAndGlyphs">0</text>
<line x1="587.4" y1="1708.5" x2="922.2" y2="1708.5" stroke="#eaeaea" stroke-width="1.3"/>
<line x1="587.4" y1="1732.6" x2="922.2" y2="1732.6" stroke="#eaeaea" stroke-width="1.3"/>
<line x1="587.4" y1="1757.5" x2="922.2" y2="1757.5" stroke="#eaeaea" stroke-width="1.3"/>
<line x1="587.4" y1="1782" x2="922.2" y2="1782" stroke="#eaeaea" stroke-width="1.3"/>
<line x1="587.4" y1="1806.8" x2="922.2" y2="1806.8" stroke="#eaeaea" stroke-width="1.3"/>
<line x1="587.4" y1="1831.6" x2="922.2" y2="1831.6" stroke="#eaeaea" stroke-width="1.3"/>
<line x1="587.4" y1="1856.1" x2="922.2" y2="1856.1" stroke="#eaeaea" stroke-width="1.3"/>
<line x1="587.4" y1="1881" x2="922.2" y2="1881" stroke="#eaeaea" stroke-width="1.3"/>
<line x1="621.9" y1="1706.7" x2="621.9" y2="1926.6" stroke="#eaeaea" stroke-width="1.3"/>
<line x1="654.5" y1="1706.7" x2="654.5" y2="1926.6" stroke="#eaeaea" stroke-width="1.3"/>
<line x1="687.9" y1="1706.7" x2="687.9" y2="1926.6" stroke="#eaeaea" stroke-width="1.3"/>
<line x1="720.9" y1="1706.7" x2="720.9" y2="1926.6" stroke="#eaeaea" stroke-width="1.3"/>
<line x1="754.3" y1="1706.7" x2="754.3" y2="1926.6" stroke="#eaeaea" stroke-width="1.3"/>
<line x1="786.9" y1="1706.7" x2="786.9" y2="1926.6" stroke="#eaeaea" stroke-width="1.3"/>
<line x1="820.3" y1="1706.7" x2="820.3" y2="1926.6" stroke="#eaeaea" stroke-width="1.3"/>
<line x1="852.9" y1="1706.7" x2="852.9" y2="1926.6" stroke="#eaeaea" stroke-width="1.3"/>
<line x1="885.9" y1="1706.7" x2="885.9" y2="1926.6" stroke="#eaeaea" stroke-width="1.3"/>
<line x1="919.3" y1="1706.7" x2="919.3" y2="1926.6" stroke="#eaeaea" stroke-width="1.3"/>
<line x1="587.4" y1="1706.7" x2="587.4" y2="1926.6" stroke="#7f7f7f" stroke-width="1.6"/>
<line x1="587.4" y1="1905.8" x2="922.2" y2="1901.3" stroke="#7f7f7f" stroke-width="1.6"/>
<path d="M587.43 1900.23 C588.85 1900.54 593.3 1902.83 595.95 1902.09 C598.61 1901.35 600.59 1900.23 603.37 1895.78 C606.15 1891.33 609.55 1880.21 612.64 1875.39 C615.73 1870.57 618.82 1868.84 621.91 1866.86 C625 1864.89 628.09 1862.41 631.18 1863.53 C634.27 1864.64 637.36 1869.09 640.45 1873.54 C643.54 1877.99 646.94 1885.71 649.72 1890.22 C652.5 1894.73 654.66 1899.06 657.13 1900.6 C659.61 1902.15 662.08 1903.39 664.55 1899.49 C667.02 1895.6 669.18 1880.46 671.97 1877.25 C674.75 1874.03 677.84 1879.28 681.23 1880.21 C684.63 1881.14 688.96 1882.5 692.36 1882.81 C695.76 1883.12 698.85 1880.83 701.63 1882.07 C704.41 1883.3 706.57 1887.32 709.04 1890.22 C711.52 1893.13 713.99 1904.44 716.46 1899.49 C718.93 1894.55 721.71 1875.08 723.87 1860.56 C726.04 1846.04 727.27 1823.98 729.44 1812.36 C731.6 1800.74 734.38 1792.71 736.85 1790.85 C739.32 1789 741.8 1795.8 744.27 1801.23 C746.74 1806.67 749.21 1818.23 751.68 1823.48 C754.16 1828.73 756.01 1826.57 759.1 1832.75 C762.19 1838.93 767.13 1850.98 770.22 1860.56 C773.31 1870.14 775.48 1883.12 777.64 1890.22 C779.8 1897.33 780.73 1901.04 783.2 1903.2 C785.67 1905.36 789.07 1901.96 792.47 1903.2 C795.87 1904.44 800.19 1911.36 803.59 1910.62 C806.99 1909.87 809.77 1901.22 812.86 1898.75 C815.95 1896.28 819.35 1900.91 822.13 1895.78 C824.91 1890.66 827.38 1881.88 829.55 1867.98 C831.71 1854.07 833.26 1822.25 835.11 1812.36 C836.96 1802.47 838.51 1806.18 840.67 1808.65 C842.83 1811.12 845 1817.92 848.09 1827.19 C851.18 1836.46 855.5 1854.38 859.21 1864.27 C862.92 1874.16 866.01 1880.03 870.33 1886.51 C874.66 1893 880.84 1899.49 885.16 1903.2 C889.49 1906.91 892.58 1907.4 896.29 1908.76 C900 1910.12 903.7 1910.62 907.41 1911.36 C911.12 1912.1 916.68 1912.9 918.54 1913.21" fill="none" stroke="#c21a72" stroke-width="2.2" stroke-linejoin="round" stroke-linecap="round"/>
<path d="M587.43 1882.81 C588.54 1883.61 591.75 1888.55 594.1 1887.63 C596.45 1886.7 599.04 1884.23 601.52 1877.25 C603.99 1870.26 606.65 1853.45 608.93 1845.73 C611.22 1838 613.07 1831.52 615.24 1830.9 C617.4 1830.28 619.25 1835.84 621.91 1842.02 C624.57 1848.2 628.09 1859.94 631.18 1867.98 C634.27 1876.01 637.36 1883.73 640.45 1890.22 C643.54 1896.71 646.63 1902.46 649.72 1906.91 C652.81 1911.36 656.21 1917.23 658.99 1916.92 C661.77 1916.61 664.24 1911.36 666.4 1905.05 C668.57 1898.75 670.11 1883.61 671.97 1879.1 C673.82 1874.59 675.67 1877.99 677.53 1877.99 C679.38 1877.99 680.62 1877.99 683.09 1879.1 C685.56 1880.21 689.27 1885.28 692.36 1884.66 C695.45 1884.04 698.54 1874.77 701.63 1875.39 C704.72 1876.01 708.12 1887.13 710.9 1888.37 C713.68 1889.6 715.84 1885.28 718.31 1882.81 C720.78 1880.33 723.57 1881.26 725.73 1873.54 C727.89 1865.81 729.44 1849.13 731.29 1836.46 C733.14 1823.79 734.69 1812.05 736.85 1797.53 C739.01 1783 742.29 1760.76 744.27 1749.33 C746.25 1737.89 746.86 1727.7 748.72 1728.93 C750.57 1730.17 753.35 1744.07 755.39 1756.74 C757.43 1769.41 759.1 1789.49 760.95 1804.94 C762.81 1820.39 764.35 1840.48 766.51 1849.44 C768.68 1858.4 771.46 1855 773.93 1858.71 C776.4 1862.41 778.87 1866.43 781.35 1871.68 C783.82 1876.94 785.67 1884.66 788.76 1890.22 C791.85 1895.78 796.18 1902.15 799.89 1905.05 C803.59 1907.96 807.3 1907.96 811.01 1907.65 C814.72 1907.34 818.42 1905.8 822.13 1903.2 C825.84 1900.6 829.55 1895.48 833.26 1892.08 C836.96 1888.68 841.6 1884.04 844.38 1882.81 C847.16 1881.57 847.78 1887.13 849.94 1884.66 C852.1 1882.19 855.19 1872.73 857.36 1867.98 C859.52 1863.22 860.76 1855.49 862.92 1856.11 C865.08 1856.73 867.86 1867.98 870.33 1871.68 C872.81 1875.39 875.28 1876.5 877.75 1878.36 C880.22 1880.21 882.69 1880.52 885.16 1882.81 C887.64 1885.09 889.49 1888.86 892.58 1892.08 C895.67 1895.29 900 1900.67 903.7 1902.09 C907.41 1903.51 912.05 1901.78 914.83 1900.6 C917.61 1899.43 919.46 1895.97 920.39 1895.04" fill="none" stroke="#0e61b6" stroke-width="2.2" stroke-linejoin="round" stroke-linecap="round"/>
<text x="625.26" y="1694.9" font-size="26.02" fill="#000" stroke="#000" stroke-width="0.2" textLength="270.6" lengthAdjust="spacingAndGlyphs">Soccer (Kicking the ball)</text>
<text x="549.97" y="1721.3" font-size="25.92" fill="#000" stroke="#000" stroke-width="0.2" textLength="28.95" lengthAdjust="spacingAndGlyphs">80</text>
<text x="547.69" y="1771.7" font-size="25.78" fill="#000" stroke="#000" stroke-width="0.2" textLength="28.61" lengthAdjust="spacingAndGlyphs">60</text>
<text x="547.41" y="1825.1" font-size="25.06" fill="#000" stroke="#000" stroke-width="0.2" textLength="28.38" lengthAdjust="spacingAndGlyphs">40</text>
<text x="547.71" y="1869.9" font-size="25.06" fill="#000" stroke="#000" stroke-width="0.2" textLength="28.6" lengthAdjust="spacingAndGlyphs">20</text>
<text x="561.99" y="1919.8" font-size="24.35" fill="#000" stroke="#000" stroke-width="0.2" textLength="14.31" lengthAdjust="spacingAndGlyphs">0</text>
<line x1="162.3" y1="1995.5" x2="486" y2="1995.5" stroke="#eaeaea" stroke-width="1.3"/>
<line x1="162.3" y1="2031.6" x2="486" y2="2031.6" stroke="#eaeaea" stroke-width="1.3"/>
<line x1="162.3" y1="2068.3" x2="486" y2="2068.3" stroke="#eaeaea" stroke-width="1.3"/>
<line x1="162.3" y1="2104" x2="486" y2="2104" stroke="#eaeaea" stroke-width="1.3"/>
<line x1="162.3" y1="2140.1" x2="486" y2="2140.1" stroke="#eaeaea" stroke-width="1.3"/>
<line x1="193.8" y1="1967" x2="193.8" y2="2176.9" stroke="#eaeaea" stroke-width="1.3"/>
<line x1="226" y1="1967" x2="226" y2="2176.9" stroke="#eaeaea" stroke-width="1.3"/>
<line x1="257.8" y1="1967" x2="257.8" y2="2176.9" stroke="#eaeaea" stroke-width="1.3"/>
<line x1="290" y1="1967" x2="290" y2="2176.9" stroke="#eaeaea" stroke-width="1.3"/>
<line x1="322.3" y1="1967" x2="322.3" y2="2176.9" stroke="#eaeaea" stroke-width="1.3"/>
<line x1="354.8" y1="1967" x2="354.8" y2="2176.9" stroke="#eaeaea" stroke-width="1.3"/>
<line x1="386.7" y1="1967" x2="386.7" y2="2176.9" stroke="#eaeaea" stroke-width="1.3"/>
<line x1="418.9" y1="1967" x2="418.9" y2="2176.9" stroke="#eaeaea" stroke-width="1.3"/>
<line x1="451.1" y1="1967" x2="451.1" y2="2176.9" stroke="#eaeaea" stroke-width="1.3"/>
<line x1="162.3" y1="1960.5" x2="162.3" y2="2177.6" stroke="#7f7f7f" stroke-width="1.6"/>
<line x1="162.3" y1="2176.9" x2="486" y2="2176.9" stroke="#7f7f7f" stroke-width="1.6"/>
<path d="M162.25 2163.59 C164.3 2163.18 170.72 2162.3 174.51 2161.13 C178.3 2159.97 180.93 2159.09 185.01 2156.58 C189.1 2154.07 194.35 2150.75 199.02 2146.08 C203.69 2141.41 208.36 2134.99 213.03 2128.57 C217.69 2122.15 222.36 2113.98 227.03 2107.56 C231.7 2101.14 236.95 2095.31 241.04 2090.06 C245.12 2084.8 248.33 2083.05 251.54 2076.05 C254.75 2069.05 257.38 2056.79 260.29 2048.04 C263.21 2039.29 265.84 2029.07 269.05 2023.53 C272.26 2017.99 276.34 2016.53 279.55 2014.78 C282.76 2013.03 285.39 2012.15 288.31 2013.03 C291.22 2013.9 293.85 2015.94 297.06 2020.03 C300.27 2024.11 304.06 2031.12 307.56 2037.54 C311.06 2043.95 314.57 2050.37 318.07 2058.54 C321.57 2066.71 325.07 2077.22 328.57 2086.55 C332.07 2095.89 335.87 2107.56 339.08 2114.57 C342.29 2121.57 344.91 2125.54 347.83 2128.57 C350.75 2131.61 352.79 2131.72 356.58 2132.77 C360.38 2133.82 366.5 2134.29 370.59 2134.87 C374.67 2135.46 377.01 2135.57 381.09 2136.27 C385.18 2136.97 391.01 2138.61 395.1 2139.08 C399.18 2139.54 402.1 2139.48 405.6 2139.08 C409.1 2138.67 412.61 2136.62 416.11 2136.62 C419.61 2136.62 423.11 2137.5 426.61 2139.08 C430.11 2140.65 433.61 2143.16 437.11 2146.08 C440.62 2149 444.12 2153.96 447.62 2156.58 C451.12 2159.21 454.62 2160.67 458.12 2161.83 C461.62 2163 465.13 2163.47 468.63 2163.59 C472.13 2163.7 476.33 2163 479.13 2162.54 C481.93 2162.07 484.38 2161.08 485.43 2160.78" fill="none" stroke="#c21a72" stroke-width="2.2" stroke-linejoin="round" stroke-linecap="round"/>
<path d="M162.25 2154.83 C163.71 2154.83 167.8 2156 171.01 2154.83 C174.22 2153.66 178.01 2151.62 181.51 2147.83 C185.01 2144.04 187.93 2139.37 192.02 2132.07 C196.1 2124.78 201.65 2112.52 206.02 2104.06 C210.4 2095.6 213.61 2089.18 218.28 2081.3 C222.95 2073.42 229.66 2065.25 234.03 2056.79 C238.41 2048.33 241.62 2038.12 244.54 2030.53 C247.46 2022.95 248.62 2016.23 251.54 2011.27 C254.46 2006.31 258.54 2003.51 262.04 2000.77 C265.55 1998.03 269.63 1995.11 272.55 1994.82 C275.47 1994.53 276.63 1995.69 279.55 1999.02 C282.47 2002.35 286.55 2007.77 290.06 2014.78 C293.56 2021.78 297.06 2031.99 300.56 2041.04 C304.06 2050.08 307.56 2060.29 311.06 2069.05 C314.57 2077.8 318.07 2085.68 321.57 2093.56 C325.07 2101.44 328.57 2110.48 332.07 2116.32 C335.57 2122.15 339.37 2126.24 342.58 2128.57 C345.79 2130.91 348.41 2131.2 351.33 2130.32 C354.25 2129.45 356.87 2125.95 360.08 2123.32 C363.29 2120.69 367.38 2116.49 370.59 2114.57 C373.8 2112.64 376.42 2112.06 379.34 2111.76 C382.26 2111.47 384.89 2112.35 388.1 2112.82 C391.3 2113.28 394.51 2114.27 398.6 2114.57 C402.68 2114.86 408.52 2113.4 412.61 2114.57 C416.69 2115.73 419.61 2117.48 423.11 2121.57 C426.61 2125.65 430.11 2134.12 433.61 2139.08 C437.11 2144.04 440.62 2148.12 444.12 2151.33 C447.62 2154.54 451.12 2156.58 454.62 2158.33 C458.12 2160.08 461.62 2161.13 465.13 2161.83 C468.63 2162.54 472.42 2163 475.63 2162.54 C478.84 2162.07 482.92 2159.62 484.38 2159.03" fill="none" stroke="#0e61b6" stroke-width="2.2" stroke-linejoin="round" stroke-linecap="round"/>
<text x="240.51" y="1959.9" font-size="25.29" fill="#000" stroke="#000" stroke-width="0.2" textLength="192.23" lengthAdjust="spacingAndGlyphs">Jogging (10 kmh)</text>
<text transform="translate(68.4 2092.27) rotate(-90)" x="0" y="0" font-size="25.15" fill="#000" stroke="#000" stroke-width="0.2" textLength="303.58" lengthAdjust="spacingAndGlyphs">Hip Joint Contact Force [N]</text>
<text transform="translate(32.1 2008.84) rotate(-90)" x="0" y="0" font-size="26.08" fill="#c10d22" stroke="#c10d22" stroke-width="0.2" textLength="137.03" lengthAdjust="spacingAndGlyphs">high-impact</text>
<text x="90.51" y="1974.3" font-size="25.49" fill="#000" stroke="#000" stroke-width="0.2" textLength="56.38" lengthAdjust="spacingAndGlyphs">6000</text>
<text x="91.23" y="2044.6" font-size="25.49" fill="#000" stroke="#000" stroke-width="0.2" textLength="55.65" lengthAdjust="spacingAndGlyphs">4000</text>
<text x="90.53" y="2119.7" font-size="25.64" fill="#000" stroke="#000" stroke-width="0.2" textLength="56.36" lengthAdjust="spacingAndGlyphs">2000</text>
<text x="132.49" y="2191.2" font-size="25.64" fill="#000" stroke="#000" stroke-width="0.2" textLength="14.43" lengthAdjust="spacingAndGlyphs">0</text>
<text x="162.89" y="2212" font-size="25.06" fill="#000" stroke="#000" stroke-width="0.2" textLength="15.82" lengthAdjust="spacingAndGlyphs">0</text>
<text x="215.63" y="2212" font-size="25.06" fill="#000" stroke="#000" stroke-width="0.2" textLength="30.23" lengthAdjust="spacingAndGlyphs">20</text>
<text x="281.01" y="2212" font-size="25.06" fill="#000" stroke="#000" stroke-width="0.2" textLength="28.81" lengthAdjust="spacingAndGlyphs">40</text>
<text x="346.82" y="2212" font-size="25.06" fill="#000" stroke="#000" stroke-width="0.2" textLength="30.24" lengthAdjust="spacingAndGlyphs">60</text>
<text x="414.38" y="2212" font-size="25.06" fill="#000" stroke="#000" stroke-width="0.2" textLength="28.62" lengthAdjust="spacingAndGlyphs">80</text>
<text x="462.36" y="2212" font-size="25.06" fill="#000" stroke="#000" stroke-width="0.2" textLength="42.43" lengthAdjust="spacingAndGlyphs">100</text>
<text x="279.3" y="2249" font-size="25.15" fill="#000" stroke="#000" stroke-width="0.2" textLength="59.15" lengthAdjust="spacingAndGlyphs">Cycle</text>
<text x="344.06" y="2248.86" font-size="21.89" fill="#000" stroke="#000" stroke-width="0.2" textLength="31.29" lengthAdjust="spacingAndGlyphs">[%]</text>
<line x1="587.4" y1="1985.2" x2="922.2" y2="1985.2" stroke="#eaeaea" stroke-width="1.3"/>
<line x1="587.4" y1="2009.3" x2="922.2" y2="2009.3" stroke="#eaeaea" stroke-width="1.3"/>
<line x1="587.4" y1="2034.5" x2="922.2" y2="2034.5" stroke="#eaeaea" stroke-width="1.3"/>
<line x1="587.4" y1="2059.4" x2="922.2" y2="2059.4" stroke="#eaeaea" stroke-width="1.3"/>
<line x1="587.4" y1="2084.2" x2="922.2" y2="2084.2" stroke="#eaeaea" stroke-width="1.3"/>
<line x1="587.4" y1="2109.4" x2="922.2" y2="2109.4" stroke="#eaeaea" stroke-width="1.3"/>
<line x1="587.4" y1="2133.9" x2="922.2" y2="2133.9" stroke="#eaeaea" stroke-width="1.3"/>
<line x1="621.9" y1="1967" x2="621.9" y2="2179.9" stroke="#eaeaea" stroke-width="1.3"/>
<line x1="656" y1="1967" x2="656" y2="2179.9" stroke="#eaeaea" stroke-width="1.3"/>
<line x1="688.6" y1="1967" x2="688.6" y2="2179.9" stroke="#eaeaea" stroke-width="1.3"/>
<line x1="722" y1="1967" x2="722" y2="2179.9" stroke="#eaeaea" stroke-width="1.3"/>
<line x1="754.6" y1="1967" x2="754.6" y2="2179.9" stroke="#eaeaea" stroke-width="1.3"/>
<line x1="787.6" y1="1967" x2="787.6" y2="2179.9" stroke="#eaeaea" stroke-width="1.3"/>
<line x1="820.6" y1="1967" x2="820.6" y2="2179.9" stroke="#eaeaea" stroke-width="1.3"/>
<line x1="853.7" y1="1967" x2="853.7" y2="2179.9" stroke="#eaeaea" stroke-width="1.3"/>
<line x1="887" y1="1967" x2="887" y2="2179.9" stroke="#eaeaea" stroke-width="1.3"/>
<line x1="919.6" y1="1967" x2="919.6" y2="2179.9" stroke="#eaeaea" stroke-width="1.3"/>
<line x1="587.4" y1="1961.1" x2="587.4" y2="2179.9" stroke="#7f7f7f" stroke-width="1.6"/>
<line x1="584.8" y1="2156.9" x2="922.2" y2="2159.5" stroke="#7f7f7f" stroke-width="1.6"/>
<path d="M587.43 2166.91 C590.08 2167.22 598.24 2168.89 603.37 2168.76 C608.5 2168.64 613.88 2167.4 618.2 2166.17 C622.53 2164.93 625.62 2163.69 629.33 2161.35 C633.03 2159 636.12 2155.78 640.45 2152.08 C644.77 2148.37 650.34 2143.12 655.28 2139.1 C660.22 2135.08 665.79 2131.68 670.11 2127.98 C674.44 2124.27 677.53 2124.27 681.23 2116.85 C684.94 2109.44 688.65 2095.22 692.36 2083.48 C696.07 2071.74 700.08 2055.98 703.48 2046.4 C706.88 2036.82 709.66 2029.9 712.75 2026.01 C715.84 2022.12 719.24 2022.43 722.02 2023.04 C724.8 2023.66 726.35 2023.97 729.44 2029.72 C732.53 2035.47 736.85 2047.33 740.56 2057.53 C744.27 2067.72 747.98 2081.01 751.68 2090.9 C755.39 2100.78 759.1 2109.44 762.81 2116.85 C766.51 2124.27 770.22 2130.26 773.93 2135.39 C777.64 2140.52 781.35 2145.16 785.05 2147.63 C788.76 2150.1 792.47 2149.98 796.18 2150.22 C799.89 2150.47 803.59 2149.54 807.3 2149.11 C811.01 2148.68 814.1 2147.63 818.42 2147.63 C822.75 2147.63 828.93 2148.99 833.26 2149.11 C837.58 2149.23 840.67 2148.92 844.38 2148.37 C848.09 2147.81 851.79 2145.77 855.5 2145.77 C859.21 2145.77 862.3 2146.39 866.63 2148.37 C870.95 2150.35 877.13 2155.29 881.46 2157.64 C885.78 2159.99 888.25 2161.22 892.58 2162.46 C896.91 2163.69 902.9 2164.5 907.41 2165.05 C911.92 2165.61 917.61 2165.67 919.65 2165.8" fill="none" stroke="#c21a72" stroke-width="2.2" stroke-linejoin="round" stroke-linecap="round"/>
<path d="M587.43 2159.49 C589.47 2159.18 595.77 2159.49 599.66 2157.64 C603.56 2155.78 607.08 2151.33 610.79 2148.37 C614.49 2145.4 618.2 2142 621.91 2139.84 C625.62 2137.68 629.33 2136.32 633.03 2135.39 C636.74 2134.46 640.45 2135.51 644.16 2134.28 C647.86 2133.04 651.88 2131.5 655.28 2127.98 C658.68 2124.45 661.46 2121.18 664.55 2113.14 C667.64 2105.11 670.42 2092.13 673.82 2079.77 C677.22 2067.41 681.23 2050.73 684.94 2038.99 C688.65 2027.25 692.67 2015.5 696.07 2009.33 C699.46 2003.15 702.55 2002.53 705.34 2001.91 C708.12 2001.29 710.28 2002.84 712.75 2005.62 C715.22 2008.4 717.39 2011.8 720.17 2018.59 C722.95 2025.39 726.04 2036.21 729.44 2046.4 C732.84 2056.6 736.85 2068.03 740.56 2079.77 C744.27 2091.52 747.98 2106.35 751.68 2116.85 C755.39 2127.36 759.41 2137.06 762.81 2142.81 C766.21 2148.55 769.3 2150.1 772.08 2151.33 C774.86 2152.57 776.71 2151.64 779.49 2150.22 C782.27 2148.8 785.36 2145.9 788.76 2142.81 C792.16 2139.72 796.18 2134.77 799.89 2131.68 C803.59 2128.59 806.06 2125.63 811.01 2124.27 C815.95 2122.91 824.29 2123.22 829.55 2123.53 C834.8 2123.84 838.82 2124.76 842.53 2126.12 C846.23 2127.48 848.4 2128.59 851.79 2131.68 C855.19 2134.77 858.59 2140.33 862.92 2144.66 C867.24 2148.99 872.81 2154.73 877.75 2157.64 C882.69 2160.54 887.64 2161.65 892.58 2162.09 C897.52 2162.52 903.7 2160.85 907.41 2160.23 C911.12 2159.62 912.79 2159.31 914.83 2158.38 C916.87 2157.45 918.84 2155.29 919.65 2154.67" fill="none" stroke="#0e61b6" stroke-width="2.2" stroke-linejoin="round" stroke-linecap="round"/>
<text x="674.31" y="1959.5" font-size="24.71" fill="#000" stroke="#000" stroke-width="0.2" textLength="192.23" lengthAdjust="spacingAndGlyphs">Jogging (10 kmh)</text>
<text transform="translate(528.8 2097.77) rotate(-90)" x="0" y="0" font-size="26.45" fill="#000" stroke="#000" stroke-width="0.2" textLength="314.91" lengthAdjust="spacingAndGlyphs">Stem Torsion Moment [Nm]</text>
<text x="548.47" y="1974.7" font-size="26.21" fill="#000" stroke="#000" stroke-width="0.2" textLength="28.84" lengthAdjust="spacingAndGlyphs">80</text>
<text x="546.14" y="2026.7" font-size="26.5" fill="#000" stroke="#000" stroke-width="0.2" textLength="29.7" lengthAdjust="spacingAndGlyphs">60</text>
<text x="545.91" y="2078.5" font-size="25.78" fill="#000" stroke="#000" stroke-width="0.2" textLength="28.38" lengthAdjust="spacingAndGlyphs">40</text>
<text x="546.68" y="2122.8" font-size="25.78" fill="#000" stroke="#000" stroke-width="0.2" textLength="29.14" lengthAdjust="spacingAndGlyphs">20</text>
<text x="560.31" y="2172.8" font-size="25.06" fill="#000" stroke="#000" stroke-width="0.2" textLength="15.59" lengthAdjust="spacingAndGlyphs">0</text>
<text x="590.67" y="2213.2" font-size="23.2" fill="#000" stroke="#000" stroke-width="0.2" textLength="14.66" lengthAdjust="spacingAndGlyphs">0</text>
<text x="643.25" y="2213.2" font-size="23.2" fill="#000" stroke="#000" stroke-width="0.2" textLength="29.79" lengthAdjust="spacingAndGlyphs">20</text>
<text x="710.5" y="2213.2" font-size="23.2" fill="#000" stroke="#000" stroke-width="0.2" textLength="29.02" lengthAdjust="spacingAndGlyphs">40</text>
<text x="776.24" y="2213.2" font-size="23.2" fill="#000" stroke="#000" stroke-width="0.2" textLength="29.81" lengthAdjust="spacingAndGlyphs">60</text>
<text x="841.79" y="2213.2" font-size="23.2" fill="#000" stroke="#000" stroke-width="0.2" textLength="30.89" lengthAdjust="spacingAndGlyphs">80</text>
<text x="902.98" y="2213.2" font-size="23.2" fill="#000" stroke="#000" stroke-width="0.2" textLength="42" lengthAdjust="spacingAndGlyphs">100</text>
<text x="714.3" y="2247.8" font-size="24.27" fill="#000" stroke="#000" stroke-width="0.2" textLength="59.05" lengthAdjust="spacingAndGlyphs">Cycle</text>
<text x="779.45" y="2247.71" font-size="21.13" fill="#000" stroke="#000" stroke-width="0.2" textLength="31.51" lengthAdjust="spacingAndGlyphs">[%]</text>
</svg>
</body></html>
